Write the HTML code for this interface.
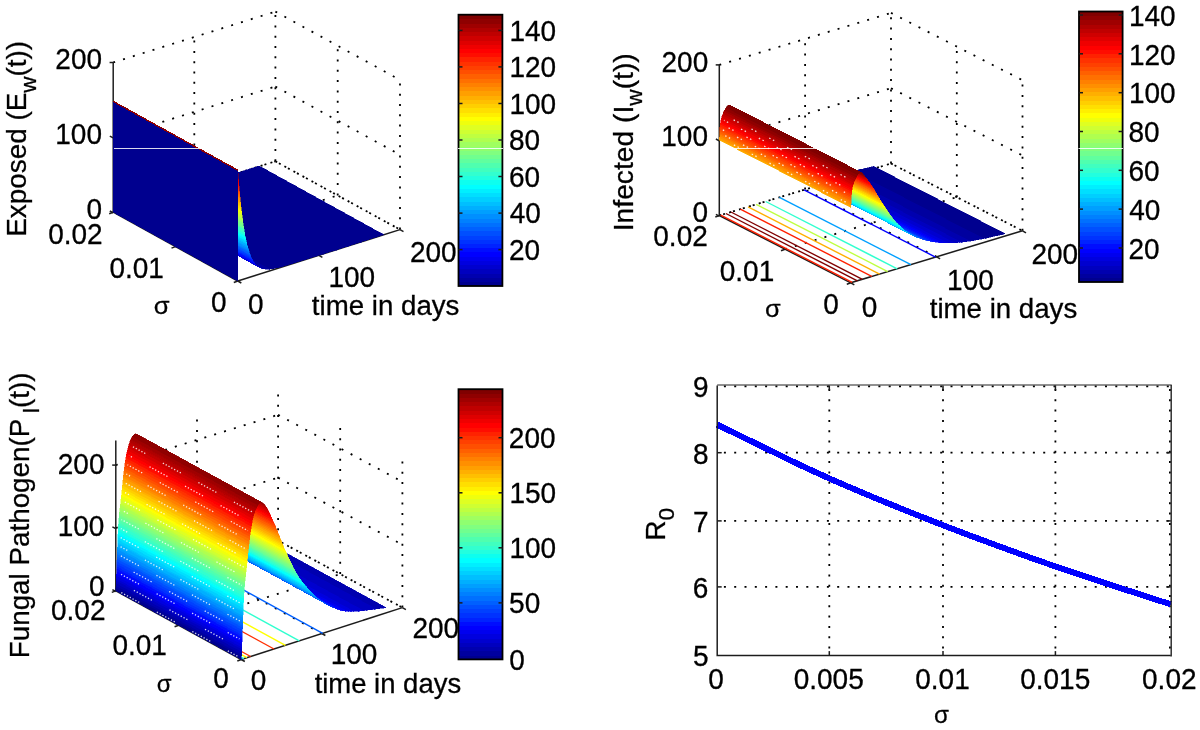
<!DOCTYPE html>
<html lang="en">
<head>
<meta charset="utf-8">
<title>Sensitivity of model compartments and R0 to sigma</title>
<style>
html,body{margin:0;padding:0;background:#fff;}
body{width:1200px;height:730px;overflow:hidden;}
svg{display:block;font-family:"Liberation Sans",sans-serif;font-size:28.00px;fill:#000;}
.g{stroke:#000;stroke-width:1.8;stroke-dasharray:2 8.3;fill:none;}
.a{stroke:#1c1c1c;stroke-width:1.5;fill:none;}
.b{stroke:#000;stroke-width:1.8;fill:none;}
</style>
</head>
<body>
<svg width="1200" height="730" viewBox="0 0 1200 730">
<defs><filter id="soft" x="0" y="0" width="1200" height="730" filterUnits="userSpaceOnUse"><feGaussianBlur stdDeviation="0.45"/></filter></defs>
<rect x="0" y="0" width="1200" height="730" fill="#fff" stroke="none"/>
<g filter="url(#soft)">
<g id="grid">
<line x1="113.2" y1="212.2" x2="275.4" y2="161.3" class="g"/>
<line x1="275.4" y1="161.3" x2="400.0" y2="229.6" class="g"/>
<line x1="113.2" y1="137.3" x2="275.4" y2="86.5" class="g"/>
<line x1="275.4" y1="86.5" x2="400.0" y2="154.8" class="g"/>
<line x1="113.2" y1="62.5" x2="275.4" y2="11.6" class="g"/>
<line x1="275.4" y1="11.6" x2="400.0" y2="79.9" class="g"/>
<line x1="194.3" y1="186.8" x2="194.3" y2="37.1" class="g"/>
<line x1="275.4" y1="161.3" x2="275.4" y2="11.6" class="g"/>
<line x1="400.0" y1="229.6" x2="400.0" y2="79.9" class="g"/>
<line x1="337.7" y1="195.4" x2="337.7" y2="45.8" class="g"/>
<line x1="275.4" y1="161.3" x2="400.0" y2="229.6" class="g" stroke-dashoffset="6.3"/>
<line x1="113.2" y1="212.2" x2="275.4" y2="161.3" class="g" stroke-dashoffset="6.3"/>
<line x1="318.9" y1="255.3" x2="194.3" y2="186.8" class="g"/>
<line x1="175.5" y1="246.6" x2="337.7" y2="195.4" class="g"/>
<line x1="719.3" y1="215.5" x2="891.0" y2="163.5" class="g"/>
<line x1="891.0" y1="163.5" x2="1022.5" y2="230.8" class="g"/>
<line x1="719.3" y1="140.2" x2="891.0" y2="88.2" class="g"/>
<line x1="891.0" y1="88.2" x2="1022.5" y2="155.5" class="g"/>
<line x1="719.3" y1="64.9" x2="891.0" y2="12.9" class="g"/>
<line x1="891.0" y1="12.9" x2="1022.5" y2="80.2" class="g"/>
<line x1="805.1" y1="189.5" x2="805.1" y2="38.9" class="g"/>
<line x1="891.0" y1="163.5" x2="891.0" y2="12.9" class="g"/>
<line x1="1022.5" y1="230.8" x2="1022.5" y2="80.2" class="g"/>
<line x1="956.8" y1="197.2" x2="956.8" y2="46.6" class="g"/>
<line x1="891.0" y1="163.5" x2="1022.5" y2="230.8" class="g" stroke-dashoffset="6.3"/>
<line x1="719.3" y1="215.5" x2="891.0" y2="163.5" class="g" stroke-dashoffset="6.3"/>
<line x1="936.6" y1="256.8" x2="805.1" y2="189.5" class="g"/>
<line x1="785.0" y1="249.2" x2="956.8" y2="197.2" class="g"/>
<line x1="115.8" y1="590.9" x2="278.1" y2="540.6" class="g"/>
<line x1="278.1" y1="540.6" x2="402.4" y2="607.6" class="g"/>
<line x1="115.8" y1="528.0" x2="278.1" y2="477.7" class="g"/>
<line x1="278.1" y1="477.7" x2="402.4" y2="544.7" class="g"/>
<line x1="115.8" y1="465.1" x2="278.1" y2="414.8" class="g"/>
<line x1="278.1" y1="414.8" x2="402.4" y2="481.8" class="g"/>
<line x1="197.0" y1="565.8" x2="197.0" y2="415.5" class="g"/>
<line x1="278.1" y1="540.6" x2="278.1" y2="390.3" class="g"/>
<line x1="402.4" y1="607.6" x2="402.4" y2="457.3" class="g"/>
<line x1="340.2" y1="574.1" x2="340.2" y2="423.8" class="g"/>
<line x1="278.1" y1="540.6" x2="402.4" y2="607.6" class="g" stroke-dashoffset="6.3"/>
<line x1="115.8" y1="590.9" x2="278.1" y2="540.6" class="g" stroke-dashoffset="6.3"/>
<line x1="321.9" y1="633.5" x2="197.0" y2="565.8" class="g"/>
<line x1="178.6" y1="625.2" x2="340.2" y2="574.1" class="g"/>
<line x1="829.3" y1="385.4" x2="829.3" y2="655.6" class="g" stroke-dashoffset="6.7"/>
<line x1="943.0" y1="385.4" x2="943.0" y2="655.6" class="g" stroke-dashoffset="6.7"/>
<line x1="1055.4" y1="385.4" x2="1055.4" y2="655.6" class="g" stroke-dashoffset="6.7"/>
<line x1="717.2" y1="586.9" x2="1170.8" y2="586.9" class="g" stroke-dashoffset="3.6"/>
<line x1="717.2" y1="520.9" x2="1170.8" y2="520.9" class="g" stroke-dashoffset="3.6"/>
<line x1="717.2" y1="452.7" x2="1170.8" y2="452.7" class="g" stroke-dashoffset="3.6"/>
<line x1="717.2" y1="386.3" x2="1170.8" y2="386.3" class="g" stroke-dashoffset="3.6"/>
<line x1="1169.9" y1="385.4" x2="1169.9" y2="655.6" class="g" stroke-dashoffset="6.7"/>
</g>
<g id="axes3d">
<line x1="113.2" y1="212.2" x2="113.2" y2="62.5" class="a"/>
<line x1="237.8" y1="281.0" x2="400.0" y2="229.6" class="a"/>
<line x1="237.8" y1="281.0" x2="113.2" y2="212.2" class="a"/>
<line x1="109.8" y1="211.0" x2="113.2" y2="212.8" class="a"/>
<line x1="109.8" y1="136.2" x2="113.2" y2="137.9" class="a"/>
<line x1="109.6" y1="62.5" x2="113.9" y2="62.5" class="a"/>
<line x1="237.8" y1="281.0" x2="241.3" y2="283.0" class="a"/>
<line x1="318.9" y1="255.3" x2="322.4" y2="257.3" class="a"/>
<line x1="400.0" y1="229.6" x2="403.5" y2="231.6" class="a"/>
<line x1="237.8" y1="281.0" x2="233.8" y2="282.5" class="a"/>
<line x1="175.5" y1="246.6" x2="171.5" y2="248.1" class="a"/>
<line x1="113.2" y1="212.2" x2="109.2" y2="213.7" class="a"/>
<line x1="719.3" y1="215.5" x2="719.3" y2="64.9" class="a"/>
<line x1="850.8" y1="282.8" x2="1022.5" y2="230.8" class="a"/>
<line x1="850.8" y1="282.8" x2="719.3" y2="215.5" class="a"/>
<line x1="715.9" y1="214.3" x2="719.3" y2="216.1" class="a"/>
<line x1="715.9" y1="139.0" x2="719.3" y2="140.8" class="a"/>
<line x1="715.7" y1="64.9" x2="720.0" y2="64.9" class="a"/>
<line x1="850.8" y1="282.8" x2="854.3" y2="284.8" class="a"/>
<line x1="936.6" y1="256.8" x2="940.1" y2="258.8" class="a"/>
<line x1="1022.5" y1="230.8" x2="1026.0" y2="232.8" class="a"/>
<line x1="850.8" y1="282.8" x2="846.8" y2="284.3" class="a"/>
<line x1="785.0" y1="249.2" x2="781.0" y2="250.7" class="a"/>
<line x1="719.3" y1="215.5" x2="715.3" y2="217.0" class="a"/>
<line x1="115.8" y1="590.9" x2="115.8" y2="440.6" class="a"/>
<line x1="241.3" y1="659.5" x2="402.4" y2="607.6" class="a"/>
<line x1="241.3" y1="659.5" x2="115.8" y2="590.9" class="a"/>
<line x1="112.4" y1="589.7" x2="115.8" y2="591.5" class="a"/>
<line x1="112.4" y1="526.8" x2="115.8" y2="528.6" class="a"/>
<line x1="112.2" y1="465.1" x2="116.5" y2="465.1" class="a"/>
<line x1="241.3" y1="659.5" x2="244.8" y2="661.5" class="a"/>
<line x1="321.9" y1="633.5" x2="325.4" y2="635.5" class="a"/>
<line x1="402.4" y1="607.6" x2="405.9" y2="609.6" class="a"/>
<line x1="241.3" y1="659.5" x2="237.3" y2="661.0" class="a"/>
<line x1="178.6" y1="625.2" x2="174.6" y2="626.7" class="a"/>
<line x1="115.8" y1="590.9" x2="111.8" y2="592.4" class="a"/>
</g>
<g id="contours">
<line x1="852.2" y1="282.4" x2="720.7" y2="215.1" stroke="#ff2000" stroke-width="1.4"/>
<line x1="857.4" y1="280.8" x2="725.9" y2="213.5" stroke="#800000" stroke-width="1.4"/>
<line x1="862.4" y1="279.3" x2="730.9" y2="212.0" stroke="#800000" stroke-width="1.4"/>
<line x1="871.8" y1="276.4" x2="740.3" y2="209.1" stroke="#ff2000" stroke-width="1.4"/>
<line x1="879.6" y1="274.1" x2="748.1" y2="206.8" stroke="#ffaf00" stroke-width="1.4"/>
<line x1="887.7" y1="271.6" x2="756.2" y2="204.3" stroke="#bfff40" stroke-width="1.4"/>
<line x1="897.2" y1="268.8" x2="765.7" y2="201.5" stroke="#30ffcf" stroke-width="1.4"/>
<line x1="910.9" y1="264.6" x2="779.4" y2="197.3" stroke="#009fff" stroke-width="1.4"/>
<line x1="935.5" y1="257.1" x2="804.0" y2="189.8" stroke="#0000ff" stroke-width="1.4"/>
<line x1="242.5" y1="659.1" x2="117.0" y2="590.5" stroke="#0060ff" stroke-width="1.4"/>
<line x1="243.8" y1="658.7" x2="118.3" y2="590.1" stroke="#30ffcf" stroke-width="1.4"/>
<line x1="246.9" y1="657.7" x2="121.4" y2="589.1" stroke="#ffff00" stroke-width="1.4"/>
<line x1="250.6" y1="656.5" x2="125.1" y2="587.9" stroke="#ff3000" stroke-width="1.4"/>
<line x1="274.0" y1="649.0" x2="148.5" y2="580.4" stroke="#ff3000" stroke-width="1.4"/>
<line x1="285.4" y1="645.3" x2="159.9" y2="576.7" stroke="#ffff00" stroke-width="1.4"/>
<line x1="299.3" y1="640.8" x2="173.8" y2="572.2" stroke="#30ffcf" stroke-width="1.4"/>
<line x1="322.7" y1="633.3" x2="197.2" y2="564.7" stroke="#0060ff" stroke-width="1.4"/>
</g>
<g id="surfaces" shape-rendering="crispEdges">
<polygon points="383.2,234.9 383.8,234.7 259.2,165.9 258.6,166.1" fill="#00008f" stroke="#00008f" stroke-width="0.5" />
<polygon points="379.9,236.0 383.2,234.9 258.6,166.1 255.3,167.2" fill="#00008f" stroke="#00008f" stroke-width="0.5" />
<polygon points="376.7,237.0 379.9,236.0 255.3,167.2 252.1,168.2" fill="#00008f" stroke="#00008f" stroke-width="0.5" />
<polygon points="373.4,238.0 376.7,237.0 252.1,168.2 248.8,169.2" fill="#00008f" stroke="#00008f" stroke-width="0.5" />
<polygon points="370.2,239.0 373.4,238.0 248.8,169.2 245.6,170.2" fill="#00008f" stroke="#00008f" stroke-width="0.5" />
<polygon points="367.0,240.1 370.2,239.0 245.6,170.2 242.4,171.3" fill="#00008f" stroke="#00008f" stroke-width="0.5" />
<polygon points="363.7,241.1 367.0,240.1 242.4,171.3 239.1,172.3" fill="#00008f" stroke="#00008f" stroke-width="0.5" />
<polygon points="360.5,242.1 363.7,241.1 239.1,172.3 235.9,173.3" fill="#00008f" stroke="#00008f" stroke-width="0.5" />
<polygon points="357.2,243.2 360.5,242.1 235.9,173.3 232.6,174.4" fill="#00008f" stroke="#00008f" stroke-width="0.5" />
<polygon points="354.0,244.2 357.2,243.2 232.6,174.4 229.4,175.4" fill="#00008f" stroke="#00008f" stroke-width="0.5" />
<polygon points="350.7,245.2 354.0,244.2 229.4,175.4 226.1,176.4" fill="#00008f" stroke="#00008f" stroke-width="0.5" />
<polygon points="347.5,246.2 350.7,245.2 226.1,176.4 222.9,177.4" fill="#00008f" stroke="#00008f" stroke-width="0.5" />
<polygon points="344.2,247.3 347.5,246.2 222.9,177.4 219.6,178.5" fill="#00008f" stroke="#00008f" stroke-width="0.5" />
<polygon points="341.0,248.3 344.2,247.3 219.6,178.5 216.4,179.5" fill="#00008f" stroke="#00008f" stroke-width="0.5" />
<polygon points="337.8,249.3 341.0,248.3 216.4,179.5 213.2,180.5" fill="#00008f" stroke="#00008f" stroke-width="0.5" />
<polygon points="334.5,250.4 337.8,249.3 213.2,180.5 209.9,181.6" fill="#00008f" stroke="#00008f" stroke-width="0.5" />
<polygon points="331.3,251.4 334.5,250.4 209.9,181.6 206.7,182.6" fill="#00008f" stroke="#00008f" stroke-width="0.5" />
<polygon points="328.0,252.4 331.3,251.4 206.7,182.6 203.4,183.6" fill="#00008f" stroke="#00008f" stroke-width="0.5" />
<polygon points="324.8,253.4 328.0,252.4 203.4,183.6 200.2,184.6" fill="#00008f" stroke="#00008f" stroke-width="0.5" />
<polygon points="321.5,254.5 324.8,253.4 200.2,184.6 196.9,185.7" fill="#00008f" stroke="#00008f" stroke-width="0.5" />
<polygon points="318.3,255.5 321.5,254.5 196.9,185.7 193.7,186.7" fill="#00008f" stroke="#00008f" stroke-width="0.5" />
<polygon points="315.0,256.5 318.3,255.5 193.7,186.7 190.4,187.7" fill="#00008f" stroke="#00008f" stroke-width="0.5" />
<polygon points="311.8,257.5 315.0,256.5 190.4,187.7 187.2,188.7" fill="#00008f" stroke="#00008f" stroke-width="0.5" />
<polygon points="308.6,258.6 311.8,257.5 187.2,188.7 184.0,189.8" fill="#00008f" stroke="#00008f" stroke-width="0.5" />
<polygon points="305.3,259.6 308.6,258.6 184.0,189.8 180.7,190.8" fill="#00008f" stroke="#00008f" stroke-width="0.5" />
<polygon points="302.1,260.6 305.3,259.6 180.7,190.8 177.5,191.8" fill="#00008f" stroke="#00008f" stroke-width="0.5" />
<polygon points="298.8,261.6 302.1,260.6 177.5,191.8 174.2,192.8" fill="#00008f" stroke="#00008f" stroke-width="0.5" />
<polygon points="295.6,262.6 298.8,261.6 174.2,192.8 171.0,193.8" fill="#00008f" stroke="#00008f" stroke-width="0.5" />
<polygon points="292.3,263.6 295.6,262.6 171.0,193.8 167.7,194.8" fill="#00008f" stroke="#00008f" stroke-width="0.5" />
<polygon points="289.1,264.6 292.3,263.6 167.7,194.8 164.5,195.8" fill="#00008f" stroke="#00008f" stroke-width="0.5" />
<polygon points="285.9,265.6 289.1,264.6 164.5,195.8 161.3,196.8" fill="#00008f" stroke="#00008f" stroke-width="0.5" />
<polygon points="282.6,266.5 285.9,265.6 161.3,196.8 158.0,197.7" fill="#00008f" stroke="#00008f" stroke-width="0.5" />
<polygon points="279.4,267.3 282.6,266.5 158.0,197.7 154.8,198.5" fill="#00008f" stroke="#00008f" stroke-width="0.5" />
<polygon points="276.1,268.1 279.4,267.3 154.8,198.5 151.5,199.3" fill="#00008f" stroke="#00008f" stroke-width="0.5" />
<polygon points="272.9,268.7 276.1,268.1 151.5,199.3 148.3,199.9" fill="#00008f" stroke="#00008f" stroke-width="0.5" />
<polygon points="269.6,269.1 272.9,268.7 148.3,199.9 145.0,200.3" fill="#00008f" stroke="#00008f" stroke-width="0.5" />
<polygon points="266.4,269.2 269.6,269.1 145.0,200.3 141.8,200.4" fill="#00009f" stroke="#00009f" stroke-width="0.5" />
<polygon points="263.1,268.8 266.4,269.2 141.8,200.4 138.5,200.0" fill="#00009f" stroke="#00009f" stroke-width="0.5" />
<polygon points="261.5,268.3 263.1,268.8 138.5,200.0 136.9,199.5" fill="#0000af" stroke="#0000af" stroke-width="0.5" />
<polygon points="259.9,267.7 261.5,268.3 136.9,199.5 135.3,198.9" fill="#0000bf" stroke="#0000bf" stroke-width="0.5" />
<polygon points="258.3,266.7 259.9,267.7 135.3,198.9 133.7,197.9" fill="#0000cf" stroke="#0000cf" stroke-width="0.5" />
<polygon points="257.5,266.1 258.3,266.7 133.7,197.9 132.9,197.3" fill="#0000cf" stroke="#0000cf" stroke-width="0.5" />
<polygon points="256.7,265.4 257.5,266.1 132.9,197.3 132.1,196.6" fill="#0000df" stroke="#0000df" stroke-width="0.5" />
<polygon points="255.8,264.6 256.7,265.4 132.1,196.6 131.2,195.8" fill="#0000df" stroke="#0000df" stroke-width="0.5" />
<polygon points="255.0,263.6 255.8,264.6 131.2,195.8 130.4,194.8" fill="#0000ef" stroke="#0000ef" stroke-width="0.5" />
<polygon points="254.2,262.6 255.0,263.6 130.4,194.8 129.6,193.8" fill="#0000ff" stroke="#0000ff" stroke-width="0.5" />
<polygon points="253.4,261.4 254.2,262.6 129.6,193.8 128.8,192.6" fill="#0010ff" stroke="#0010ff" stroke-width="0.5" />
<polygon points="253.0,260.7 253.4,261.4 128.8,192.6 128.4,191.9" fill="#0010ff" stroke="#0010ff" stroke-width="0.5" />
<polygon points="252.6,260.0 253.0,260.7 128.4,191.9 128.0,191.2" fill="#0020ff" stroke="#0020ff" stroke-width="0.5" />
<polygon points="252.2,259.3 252.6,260.0 128.0,191.2 127.6,190.5" fill="#0020ff" stroke="#0020ff" stroke-width="0.5" />
<polygon points="251.8,258.5 252.2,259.3 127.6,190.5 127.2,189.7" fill="#0030ff" stroke="#0030ff" stroke-width="0.5" />
<polygon points="251.4,257.6 251.8,258.5 127.2,189.7 126.8,188.8" fill="#0030ff" stroke="#0030ff" stroke-width="0.5" />
<polygon points="251.0,256.7 251.4,257.6 126.8,188.8 126.4,187.9" fill="#0040ff" stroke="#0040ff" stroke-width="0.5" />
<polygon points="250.6,255.8 251.0,256.7 126.4,187.9 126.0,187.0" fill="#0040ff" stroke="#0040ff" stroke-width="0.5" />
<polygon points="250.2,254.7 250.6,255.8 126.0,187.0 125.6,185.9" fill="#0050ff" stroke="#0050ff" stroke-width="0.5" />
<polygon points="249.8,253.7 250.2,254.7 125.6,185.9 125.2,184.9" fill="#0060ff" stroke="#0060ff" stroke-width="0.5" />
<polygon points="249.4,252.5 249.8,253.7 125.2,184.9 124.8,183.7" fill="#0060ff" stroke="#0060ff" stroke-width="0.5" />
<polygon points="249.0,251.3 249.4,252.5 124.8,183.7 124.4,182.5" fill="#0070ff" stroke="#0070ff" stroke-width="0.5" />
<polygon points="248.5,250.0 249.0,251.3 124.4,182.5 123.9,181.2" fill="#0080ff" stroke="#0080ff" stroke-width="0.5" />
<polygon points="248.1,248.7 248.5,250.0 123.9,181.2 123.5,179.9" fill="#008fff" stroke="#008fff" stroke-width="0.5" />
<polygon points="247.9,248.0 248.1,248.7 123.5,179.9 123.3,179.2" fill="#008fff" stroke="#008fff" stroke-width="0.5" />
<polygon points="247.7,247.2 247.9,248.0 123.3,179.2 123.1,178.4" fill="#009fff" stroke="#009fff" stroke-width="0.5" />
<polygon points="247.5,246.5 247.7,247.2 123.1,178.4 122.9,177.7" fill="#009fff" stroke="#009fff" stroke-width="0.5" />
<polygon points="247.3,245.7 247.5,246.5 122.9,177.7 122.7,176.9" fill="#00afff" stroke="#00afff" stroke-width="0.5" />
<polygon points="247.1,244.9 247.3,245.7 122.7,176.9 122.5,176.1" fill="#00afff" stroke="#00afff" stroke-width="0.5" />
<polygon points="246.9,244.1 247.1,244.9 122.5,176.1 122.3,175.3" fill="#00bfff" stroke="#00bfff" stroke-width="0.5" />
<polygon points="246.7,243.3 246.9,244.1 122.3,175.3 122.1,174.5" fill="#00bfff" stroke="#00bfff" stroke-width="0.5" />
<polygon points="246.5,242.4 246.7,243.3 122.1,174.5 121.9,173.6" fill="#00cfff" stroke="#00cfff" stroke-width="0.5" />
<polygon points="246.3,241.5 246.5,242.4 121.9,173.6 121.7,172.7" fill="#00cfff" stroke="#00cfff" stroke-width="0.5" />
<polygon points="246.1,240.6 246.3,241.5 121.7,172.7 121.5,171.8" fill="#00dfff" stroke="#00dfff" stroke-width="0.5" />
<polygon points="245.9,239.7 246.1,240.6 121.5,171.8 121.3,170.9" fill="#00efff" stroke="#00efff" stroke-width="0.5" />
<polygon points="245.7,238.7 245.9,239.7 121.3,170.9 121.1,169.9" fill="#00efff" stroke="#00efff" stroke-width="0.5" />
<polygon points="245.5,237.7 245.7,238.7 121.1,169.9 120.9,168.9" fill="#00ffff" stroke="#00ffff" stroke-width="0.5" />
<polygon points="245.3,236.7 245.5,237.7 120.9,168.9 120.7,167.9" fill="#00ffff" stroke="#00ffff" stroke-width="0.5" />
<polygon points="245.1,235.6 245.3,236.7 120.7,167.9 120.5,166.8" fill="#10ffef" stroke="#10ffef" stroke-width="0.5" />
<polygon points="244.9,234.5 245.1,235.6 120.5,166.8 120.3,165.7" fill="#20ffdf" stroke="#20ffdf" stroke-width="0.5" />
<polygon points="244.7,233.4 244.9,234.5 120.3,165.7 120.1,164.6" fill="#20ffdf" stroke="#20ffdf" stroke-width="0.5" />
<polygon points="244.5,232.3 244.7,233.4 120.1,164.6 119.9,163.5" fill="#30ffcf" stroke="#30ffcf" stroke-width="0.5" />
<polygon points="244.3,231.1 244.5,232.3 119.9,163.5 119.7,162.3" fill="#40ffbf" stroke="#40ffbf" stroke-width="0.5" />
<polygon points="244.1,229.9 244.3,231.1 119.7,162.3 119.5,161.1" fill="#40ffbf" stroke="#40ffbf" stroke-width="0.5" />
<polygon points="243.9,228.7 244.1,229.9 119.5,161.1 119.3,159.9" fill="#50ffaf" stroke="#50ffaf" stroke-width="0.5" />
<polygon points="243.7,227.4 243.9,228.7 119.3,159.9 119.1,158.6" fill="#60ff9f" stroke="#60ff9f" stroke-width="0.5" />
<polygon points="243.5,226.1 243.7,227.4 119.1,158.6 118.9,157.3" fill="#70ff8f" stroke="#70ff8f" stroke-width="0.5" />
<polygon points="243.3,224.7 243.5,226.1 118.9,157.3 118.7,155.9" fill="#70ff8f" stroke="#70ff8f" stroke-width="0.5" />
<polygon points="243.1,223.3 243.3,224.7 118.7,155.9 118.5,154.5" fill="#80ff80" stroke="#80ff80" stroke-width="0.5" />
<polygon points="242.9,221.9 243.1,223.3 118.5,154.5 118.3,153.1" fill="#8fff70" stroke="#8fff70" stroke-width="0.5" />
<polygon points="242.8,221.2 242.9,221.9 118.3,153.1 118.2,152.4" fill="#9fff60" stroke="#9fff60" stroke-width="0.5" />
<polygon points="242.7,220.5 242.8,221.2 118.2,152.4 118.1,151.7" fill="#9fff60" stroke="#9fff60" stroke-width="0.5" />
<polygon points="242.6,219.7 242.7,220.5 118.1,151.7 118.0,150.9" fill="#afff50" stroke="#afff50" stroke-width="0.5" />
<polygon points="242.5,219.0 242.6,219.7 118.0,150.9 117.9,150.2" fill="#afff50" stroke="#afff50" stroke-width="0.5" />
<polygon points="242.4,218.2 242.5,219.0 117.9,150.2 117.8,149.4" fill="#bfff40" stroke="#bfff40" stroke-width="0.5" />
<polygon points="242.3,217.4 242.4,218.2 117.8,149.4 117.7,148.6" fill="#bfff40" stroke="#bfff40" stroke-width="0.5" />
<polygon points="242.2,216.6 242.3,217.4 117.7,148.6 117.6,147.8" fill="#cfff30" stroke="#cfff30" stroke-width="0.5" />
<polygon points="242.1,215.8 242.2,216.6 117.6,147.8 117.5,147.0" fill="#cfff30" stroke="#cfff30" stroke-width="0.5" />
<polygon points="242.0,215.0 242.1,215.8 117.5,147.0 117.4,146.2" fill="#cfff30" stroke="#cfff30" stroke-width="0.5" />
<polygon points="241.9,214.2 242.0,215.0 117.4,146.2 117.3,145.4" fill="#dfff20" stroke="#dfff20" stroke-width="0.5" />
<polygon points="241.8,213.4 241.9,214.2 117.3,145.4 117.2,144.6" fill="#dfff20" stroke="#dfff20" stroke-width="0.5" />
<polygon points="241.7,212.5 241.8,213.4 117.2,144.6 117.1,143.7" fill="#efff10" stroke="#efff10" stroke-width="0.5" />
<polygon points="241.6,211.6 241.7,212.5 117.1,143.7 117.0,142.8" fill="#efff10" stroke="#efff10" stroke-width="0.5" />
<polygon points="241.4,210.8 241.6,211.6 117.0,142.8 116.8,142.0" fill="#ffff00" stroke="#ffff00" stroke-width="0.5" />
<polygon points="241.3,209.9 241.4,210.8 116.8,142.0 116.7,141.1" fill="#ffef00" stroke="#ffef00" stroke-width="0.5" />
<polygon points="241.2,209.0 241.3,209.9 116.7,141.1 116.6,140.2" fill="#ffef00" stroke="#ffef00" stroke-width="0.5" />
<polygon points="241.1,208.1 241.2,209.0 116.6,140.2 116.5,139.3" fill="#ffdf00" stroke="#ffdf00" stroke-width="0.5" />
<polygon points="241.0,207.2 241.1,208.1 116.5,139.3 116.4,138.4" fill="#ffdf00" stroke="#ffdf00" stroke-width="0.5" />
<polygon points="240.9,206.3 241.0,207.2 116.4,138.4 116.3,137.5" fill="#ffcf00" stroke="#ffcf00" stroke-width="0.5" />
<polygon points="240.8,205.3 240.9,206.3 116.3,137.5 116.2,136.5" fill="#ffcf00" stroke="#ffcf00" stroke-width="0.5" />
<polygon points="240.7,204.4 240.8,205.3 116.2,136.5 116.1,135.6" fill="#ffbf00" stroke="#ffbf00" stroke-width="0.5" />
<polygon points="240.6,203.4 240.7,204.4 116.1,135.6 116.0,134.6" fill="#ffbf00" stroke="#ffbf00" stroke-width="0.5" />
<polygon points="240.5,202.4 240.6,203.4 116.0,134.6 115.9,133.6" fill="#ffaf00" stroke="#ffaf00" stroke-width="0.5" />
<polygon points="240.4,201.4 240.5,202.4 115.9,133.6 115.8,132.6" fill="#ff9f00" stroke="#ff9f00" stroke-width="0.5" />
<polygon points="240.3,200.4 240.4,201.4 115.8,132.6 115.7,131.6" fill="#ff9f00" stroke="#ff9f00" stroke-width="0.5" />
<polygon points="240.2,199.4 240.3,200.4 115.7,131.6 115.6,130.6" fill="#ff8f00" stroke="#ff8f00" stroke-width="0.5" />
<polygon points="240.1,198.3 240.2,199.4 115.6,130.6 115.5,129.5" fill="#ff8f00" stroke="#ff8f00" stroke-width="0.5" />
<polygon points="240.0,197.3 240.1,198.3 115.5,129.5 115.4,128.5" fill="#ff8000" stroke="#ff8000" stroke-width="0.5" />
<polygon points="239.9,196.2 240.0,197.3 115.4,128.5 115.3,127.4" fill="#ff7000" stroke="#ff7000" stroke-width="0.5" />
<polygon points="239.8,195.2 239.9,196.2 115.3,127.4 115.2,126.4" fill="#ff7000" stroke="#ff7000" stroke-width="0.5" />
<polygon points="239.7,194.1 239.8,195.2 115.2,126.4 115.1,125.3" fill="#ff6000" stroke="#ff6000" stroke-width="0.5" />
<polygon points="239.6,193.0 239.7,194.1 115.1,125.3 115.0,124.2" fill="#ff5000" stroke="#ff5000" stroke-width="0.5" />
<polygon points="239.5,191.8 239.6,193.0 115.0,124.2 114.9,123.0" fill="#ff5000" stroke="#ff5000" stroke-width="0.5" />
<polygon points="239.4,190.7 239.5,191.8 114.9,123.0 114.8,121.9" fill="#ff4000" stroke="#ff4000" stroke-width="0.5" />
<polygon points="239.3,189.5 239.4,190.7 114.8,121.9 114.7,120.7" fill="#ff3000" stroke="#ff3000" stroke-width="0.5" />
<polygon points="239.2,188.4 239.3,189.5 114.7,120.7 114.6,119.6" fill="#ff3000" stroke="#ff3000" stroke-width="0.5" />
<polygon points="239.1,187.2 239.2,188.4 114.6,119.6 114.5,118.4" fill="#ff2000" stroke="#ff2000" stroke-width="0.5" />
<polygon points="239.0,186.0 239.1,187.2 114.5,118.4 114.4,117.2" fill="#ff1000" stroke="#ff1000" stroke-width="0.5" />
<polygon points="238.9,184.8 239.0,186.0 114.4,117.2 114.3,116.0" fill="#ff1000" stroke="#ff1000" stroke-width="0.5" />
<polygon points="238.8,183.5 238.9,184.8 114.3,116.0 114.2,114.7" fill="#ff0000" stroke="#ff0000" stroke-width="0.5" />
<polygon points="238.7,182.3 238.8,183.5 114.2,114.7 114.1,113.5" fill="#ef0000" stroke="#ef0000" stroke-width="0.5" />
<polygon points="238.6,181.0 238.7,182.3 114.1,113.5 114.0,112.2" fill="#df0000" stroke="#df0000" stroke-width="0.5" />
<polygon points="238.5,179.7 238.6,181.0 114.0,112.2 113.9,110.9" fill="#df0000" stroke="#df0000" stroke-width="0.5" />
<polygon points="238.4,178.4 238.5,179.7 113.9,110.9 113.8,109.6" fill="#cf0000" stroke="#cf0000" stroke-width="0.5" />
<polygon points="238.3,177.1 238.4,178.4 113.8,109.6 113.7,108.3" fill="#bf0000" stroke="#bf0000" stroke-width="0.5" />
<polygon points="238.2,175.8 238.3,177.1 113.7,108.3 113.6,107.0" fill="#af0000" stroke="#af0000" stroke-width="0.5" />
<polygon points="238.1,174.4 238.2,175.8 113.6,107.0 113.5,105.6" fill="#af0000" stroke="#af0000" stroke-width="0.5" />
<polygon points="238.0,173.0 238.1,174.4 113.5,105.6 113.4,104.2" fill="#9f0000" stroke="#9f0000" stroke-width="0.5" />
<polygon points="237.9,171.6 238.0,173.0 113.4,104.2 113.3,102.8" fill="#8f0000" stroke="#8f0000" stroke-width="0.5" />
<polygon points="237.8,170.2 237.9,171.6 113.3,102.8 113.2,101.4" fill="#800000" stroke="#800000" stroke-width="0.5" />
<polygon points="237.8,281.0 237.8,170.2 113.2,101.4 113.2,212.2" fill="#00008f" stroke="#00008f" stroke-width="0.5" />
<line x1="237.8" y1="170.2" x2="113.2" y2="101.4" stroke="#8f0000" stroke-width="1.4"/>
<polygon points="1004.4,233.9 1005.3,233.7 873.8,166.4 872.9,166.6" fill="#00008f" stroke="#00008f" stroke-width="0.5" />
<polygon points="1002.7,234.3 1004.4,233.9 872.9,166.6 871.2,167.0" fill="#00008f" stroke="#00008f" stroke-width="0.5" />
<polygon points="1001.0,234.7 1002.7,234.3 871.2,167.0 869.5,167.4" fill="#00008f" stroke="#00008f" stroke-width="0.5" />
<polygon points="999.2,235.1 1001.0,234.7 869.5,167.4 867.7,167.8" fill="#00008f" stroke="#00008f" stroke-width="0.5" />
<polygon points="997.5,235.5 999.2,235.1 867.7,167.8 866.0,168.2" fill="#00008f" stroke="#00008f" stroke-width="0.5" />
<polygon points="995.8,235.9 997.5,235.5 866.0,168.2 864.3,168.6" fill="#00008f" stroke="#00008f" stroke-width="0.5" />
<polygon points="994.1,236.3 995.8,235.9 864.3,168.6 862.6,169.0" fill="#00008f" stroke="#00008f" stroke-width="0.5" />
<polygon points="992.4,236.7 994.1,236.3 862.6,169.0 860.9,169.4" fill="#00008f" stroke="#00008f" stroke-width="0.5" />
<polygon points="990.7,237.1 992.4,236.7 860.9,169.4 859.2,169.8" fill="#00008f" stroke="#00008f" stroke-width="0.5" />
<polygon points="988.9,237.5 990.7,237.1 859.2,169.8 857.4,170.2" fill="#00008f" stroke="#00008f" stroke-width="0.5" />
<polygon points="987.2,237.8 988.9,237.5 857.4,170.2 855.7,170.5" fill="#00008f" stroke="#00008f" stroke-width="0.5" />
<polygon points="985.5,238.2 987.2,237.8 855.7,170.5 854.0,170.9" fill="#00008f" stroke="#00008f" stroke-width="0.5" />
<polygon points="983.8,238.6 985.5,238.2 854.0,170.9 852.3,171.3" fill="#00008f" stroke="#00008f" stroke-width="0.5" />
<polygon points="982.1,238.9 983.8,238.6 852.3,171.3 850.6,171.6" fill="#00009f" stroke="#00009f" stroke-width="0.5" />
<polygon points="980.4,239.3 982.1,238.9 850.6,171.6 848.9,172.0" fill="#00009f" stroke="#00009f" stroke-width="0.5" />
<polygon points="978.6,239.6 980.4,239.3 848.9,172.0 847.1,172.3" fill="#00009f" stroke="#00009f" stroke-width="0.5" />
<polygon points="976.9,239.9 978.6,239.6 847.1,172.3 845.4,172.6" fill="#00009f" stroke="#00009f" stroke-width="0.5" />
<polygon points="975.2,240.2 976.9,239.9 845.4,172.6 843.7,172.9" fill="#00009f" stroke="#00009f" stroke-width="0.5" />
<polygon points="973.5,240.5 975.2,240.2 843.7,172.9 842.0,173.2" fill="#00009f" stroke="#00009f" stroke-width="0.5" />
<polygon points="971.8,240.8 973.5,240.5 842.0,173.2 840.3,173.5" fill="#00009f" stroke="#00009f" stroke-width="0.5" />
<polygon points="970.1,241.1 971.8,240.8 840.3,173.5 838.6,173.8" fill="#00009f" stroke="#00009f" stroke-width="0.5" />
<polygon points="968.3,241.3 970.1,241.1 838.6,173.8 836.8,174.0" fill="#0000af" stroke="#0000af" stroke-width="0.5" />
<polygon points="966.6,241.5 968.3,241.3 836.8,174.0 835.1,174.2" fill="#0000af" stroke="#0000af" stroke-width="0.5" />
<polygon points="964.9,241.8 966.6,241.5 835.1,174.2 833.4,174.5" fill="#0000af" stroke="#0000af" stroke-width="0.5" />
<polygon points="963.2,242.0 964.9,241.8 833.4,174.5 831.7,174.7" fill="#0000af" stroke="#0000af" stroke-width="0.5" />
<polygon points="961.5,242.2 963.2,242.0 831.7,174.7 830.0,174.9" fill="#0000af" stroke="#0000af" stroke-width="0.5" />
<polygon points="959.7,242.4 961.5,242.2 830.0,174.9 828.2,175.1" fill="#0000bf" stroke="#0000bf" stroke-width="0.5" />
<polygon points="958.0,242.5 959.7,242.4 828.2,175.1 826.5,175.2" fill="#0000bf" stroke="#0000bf" stroke-width="0.5" />
<polygon points="956.3,242.6 958.0,242.5 826.5,175.2 824.8,175.3" fill="#0000bf" stroke="#0000bf" stroke-width="0.5" />
<polygon points="954.6,242.7 956.3,242.6 824.8,175.3 823.1,175.4" fill="#0000bf" stroke="#0000bf" stroke-width="0.5" />
<polygon points="952.9,242.8 954.6,242.7 823.1,175.4 821.4,175.5" fill="#0000cf" stroke="#0000cf" stroke-width="0.5" />
<polygon points="951.2,242.9 952.9,242.8 821.4,175.5 819.7,175.6" fill="#0000cf" stroke="#0000cf" stroke-width="0.5" />
<polygon points="949.4,242.9 951.2,242.9 819.7,175.6 817.9,175.6" fill="#0000cf" stroke="#0000cf" stroke-width="0.5" />
<polygon points="947.7,242.9 949.4,242.9 817.9,175.6 816.2,175.6" fill="#0000cf" stroke="#0000cf" stroke-width="0.5" />
<polygon points="946.0,242.9 947.7,242.9 816.2,175.6 814.5,175.6" fill="#0000df" stroke="#0000df" stroke-width="0.5" />
<polygon points="944.3,242.9 946.0,242.9 814.5,175.6 812.8,175.6" fill="#0000df" stroke="#0000df" stroke-width="0.5" />
<polygon points="942.6,242.8 944.3,242.9 812.8,175.6 811.1,175.5" fill="#0000df" stroke="#0000df" stroke-width="0.5" />
<polygon points="940.9,242.7 942.6,242.8 811.1,175.5 809.4,175.4" fill="#0000ef" stroke="#0000ef" stroke-width="0.5" />
<polygon points="939.1,242.5 940.9,242.7 809.4,175.4 807.6,175.2" fill="#0000ef" stroke="#0000ef" stroke-width="0.5" />
<polygon points="937.4,242.3 939.1,242.5 807.6,175.2 805.9,175.0" fill="#0000ff" stroke="#0000ff" stroke-width="0.5" />
<polygon points="935.7,242.1 937.4,242.3 805.9,175.0 804.2,174.8" fill="#0000ff" stroke="#0000ff" stroke-width="0.5" />
<polygon points="934.9,242.0 935.7,242.1 804.2,174.8 803.4,174.7" fill="#0000ff" stroke="#0000ff" stroke-width="0.5" />
<polygon points="934.0,241.8 934.9,242.0 803.4,174.7 802.5,174.5" fill="#0010ff" stroke="#0010ff" stroke-width="0.5" />
<polygon points="933.1,241.7 934.0,241.8 802.5,174.5 801.6,174.4" fill="#0010ff" stroke="#0010ff" stroke-width="0.5" />
<polygon points="932.3,241.5 933.1,241.7 801.6,174.4 800.8,174.2" fill="#0010ff" stroke="#0010ff" stroke-width="0.5" />
<polygon points="931.4,241.4 932.3,241.5 800.8,174.2 799.9,174.1" fill="#0010ff" stroke="#0010ff" stroke-width="0.5" />
<polygon points="930.6,241.2 931.4,241.4 799.9,174.1 799.1,173.9" fill="#0020ff" stroke="#0020ff" stroke-width="0.5" />
<polygon points="929.7,241.0 930.6,241.2 799.1,173.9 798.2,173.7" fill="#0020ff" stroke="#0020ff" stroke-width="0.5" />
<polygon points="928.8,240.9 929.7,241.0 798.2,173.7 797.3,173.6" fill="#0020ff" stroke="#0020ff" stroke-width="0.5" />
<polygon points="928.0,240.7 928.8,240.9 797.3,173.6 796.5,173.4" fill="#0020ff" stroke="#0020ff" stroke-width="0.5" />
<polygon points="927.1,240.5 928.0,240.7 796.5,173.4 795.6,173.2" fill="#0030ff" stroke="#0030ff" stroke-width="0.5" />
<polygon points="926.3,240.2 927.1,240.5 795.6,173.2 794.8,172.9" fill="#0030ff" stroke="#0030ff" stroke-width="0.5" />
<polygon points="925.4,240.0 926.3,240.2 794.8,172.9 793.9,172.7" fill="#0030ff" stroke="#0030ff" stroke-width="0.5" />
<polygon points="924.6,239.8 925.4,240.0 793.9,172.7 793.1,172.5" fill="#0040ff" stroke="#0040ff" stroke-width="0.5" />
<polygon points="923.7,239.5 924.6,239.8 793.1,172.5 792.2,172.2" fill="#0040ff" stroke="#0040ff" stroke-width="0.5" />
<polygon points="922.8,239.3 923.7,239.5 792.2,172.2 791.3,172.0" fill="#0040ff" stroke="#0040ff" stroke-width="0.5" />
<polygon points="922.0,239.0 922.8,239.3 791.3,172.0 790.5,171.7" fill="#0050ff" stroke="#0050ff" stroke-width="0.5" />
<polygon points="921.1,238.7 922.0,239.0 790.5,171.7 789.6,171.4" fill="#0050ff" stroke="#0050ff" stroke-width="0.5" />
<polygon points="920.3,238.4 921.1,238.7 789.6,171.4 788.8,171.1" fill="#0050ff" stroke="#0050ff" stroke-width="0.5" />
<polygon points="919.4,238.1 920.3,238.4 788.8,171.1 787.9,170.8" fill="#0060ff" stroke="#0060ff" stroke-width="0.5" />
<polygon points="918.5,237.8 919.4,238.1 787.9,170.8 787.0,170.5" fill="#0060ff" stroke="#0060ff" stroke-width="0.5" />
<polygon points="917.7,237.5 918.5,237.8 787.0,170.5 786.2,170.2" fill="#0060ff" stroke="#0060ff" stroke-width="0.5" />
<polygon points="916.8,237.2 917.7,237.5 786.2,170.2 785.3,169.9" fill="#0070ff" stroke="#0070ff" stroke-width="0.5" />
<polygon points="916.0,236.8 916.8,237.2 785.3,169.9 784.5,169.5" fill="#0070ff" stroke="#0070ff" stroke-width="0.5" />
<polygon points="915.1,236.4 916.0,236.8 784.5,169.5 783.6,169.1" fill="#0070ff" stroke="#0070ff" stroke-width="0.5" />
<polygon points="914.2,236.1 915.1,236.4 783.6,169.1 782.7,168.8" fill="#0080ff" stroke="#0080ff" stroke-width="0.5" />
<polygon points="913.4,235.7 914.2,236.1 782.7,168.8 781.9,168.4" fill="#0080ff" stroke="#0080ff" stroke-width="0.5" />
<polygon points="912.5,235.3 913.4,235.7 781.9,168.4 781.0,168.0" fill="#008fff" stroke="#008fff" stroke-width="0.5" />
<polygon points="911.7,234.9 912.5,235.3 781.0,168.0 780.2,167.6" fill="#008fff" stroke="#008fff" stroke-width="0.5" />
<polygon points="910.8,234.4 911.7,234.9 780.2,167.6 779.3,167.1" fill="#008fff" stroke="#008fff" stroke-width="0.5" />
<polygon points="910.0,234.0 910.8,234.4 779.3,167.1 778.5,166.7" fill="#009fff" stroke="#009fff" stroke-width="0.5" />
<polygon points="909.1,233.5 910.0,234.0 778.5,166.7 777.6,166.2" fill="#009fff" stroke="#009fff" stroke-width="0.5" />
<polygon points="908.7,233.2 909.1,233.5 777.6,166.2 777.2,165.9" fill="#00afff" stroke="#00afff" stroke-width="0.5" />
<polygon points="908.2,233.0 908.7,233.2 777.2,165.9 776.7,165.7" fill="#00afff" stroke="#00afff" stroke-width="0.5" />
<polygon points="907.8,232.7 908.2,233.0 776.7,165.7 776.3,165.4" fill="#00afff" stroke="#00afff" stroke-width="0.5" />
<polygon points="907.4,232.4 907.8,232.7 776.3,165.4 775.9,165.1" fill="#00afff" stroke="#00afff" stroke-width="0.5" />
<polygon points="907.0,232.1 907.4,232.4 775.9,165.1 775.5,164.8" fill="#00bfff" stroke="#00bfff" stroke-width="0.5" />
<polygon points="906.5,231.8 907.0,232.1 775.5,164.8 775.0,164.5" fill="#00bfff" stroke="#00bfff" stroke-width="0.5" />
<polygon points="906.1,231.5 906.5,231.8 775.0,164.5 774.6,164.2" fill="#00bfff" stroke="#00bfff" stroke-width="0.5" />
<polygon points="905.7,231.2 906.1,231.5 774.6,164.2 774.2,163.9" fill="#00bfff" stroke="#00bfff" stroke-width="0.5" />
<polygon points="905.2,230.9 905.7,231.2 774.2,163.9 773.7,163.6" fill="#00cfff" stroke="#00cfff" stroke-width="0.5" />
<polygon points="904.8,230.5 905.2,230.9 773.7,163.6 773.3,163.2" fill="#00cfff" stroke="#00cfff" stroke-width="0.5" />
<polygon points="904.4,230.2 904.8,230.5 773.3,163.2 772.9,162.9" fill="#00cfff" stroke="#00cfff" stroke-width="0.5" />
<polygon points="903.9,229.8 904.4,230.2 772.9,162.9 772.4,162.5" fill="#00dfff" stroke="#00dfff" stroke-width="0.5" />
<polygon points="903.5,229.5 903.9,229.8 772.4,162.5 772.0,162.2" fill="#00dfff" stroke="#00dfff" stroke-width="0.5" />
<polygon points="903.1,229.1 903.5,229.5 772.0,162.2 771.6,161.8" fill="#00dfff" stroke="#00dfff" stroke-width="0.5" />
<polygon points="902.7,228.8 903.1,229.1 771.6,161.8 771.2,161.5" fill="#00dfff" stroke="#00dfff" stroke-width="0.5" />
<polygon points="902.2,228.4 902.7,228.8 771.2,161.5 770.7,161.1" fill="#00efff" stroke="#00efff" stroke-width="0.5" />
<polygon points="901.8,228.0 902.2,228.4 770.7,161.1 770.3,160.7" fill="#00efff" stroke="#00efff" stroke-width="0.5" />
<polygon points="901.4,227.6 901.8,228.0 770.3,160.7 769.9,160.3" fill="#00efff" stroke="#00efff" stroke-width="0.5" />
<polygon points="900.9,227.2 901.4,227.6 769.9,160.3 769.4,159.9" fill="#00ffff" stroke="#00ffff" stroke-width="0.5" />
<polygon points="900.5,226.8 900.9,227.2 769.4,159.9 769.0,159.5" fill="#00ffff" stroke="#00ffff" stroke-width="0.5" />
<polygon points="900.1,226.4 900.5,226.8 769.0,159.5 768.6,159.1" fill="#00ffff" stroke="#00ffff" stroke-width="0.5" />
<polygon points="899.7,226.0 900.1,226.4 768.6,159.1 768.2,158.7" fill="#10ffef" stroke="#10ffef" stroke-width="0.5" />
<polygon points="899.2,225.6 899.7,226.0 768.2,158.7 767.7,158.3" fill="#10ffef" stroke="#10ffef" stroke-width="0.5" />
<polygon points="898.8,225.2 899.2,225.6 767.7,158.3 767.3,157.9" fill="#10ffef" stroke="#10ffef" stroke-width="0.5" />
<polygon points="898.4,224.8 898.8,225.2 767.3,157.9 766.9,157.5" fill="#20ffdf" stroke="#20ffdf" stroke-width="0.5" />
<polygon points="897.9,224.4 898.4,224.8 766.9,157.5 766.4,157.1" fill="#20ffdf" stroke="#20ffdf" stroke-width="0.5" />
<polygon points="897.5,223.9 897.9,224.4 766.4,157.1 766.0,156.6" fill="#20ffdf" stroke="#20ffdf" stroke-width="0.5" />
<polygon points="897.1,223.5 897.5,223.9 766.0,156.6 765.6,156.2" fill="#30ffcf" stroke="#30ffcf" stroke-width="0.5" />
<polygon points="896.6,223.1 897.1,223.5 765.6,156.2 765.1,155.8" fill="#30ffcf" stroke="#30ffcf" stroke-width="0.5" />
<polygon points="896.2,222.6 896.6,223.1 765.1,155.8 764.7,155.3" fill="#30ffcf" stroke="#30ffcf" stroke-width="0.5" />
<polygon points="895.8,222.1 896.2,222.6 764.7,155.3 764.3,154.8" fill="#40ffbf" stroke="#40ffbf" stroke-width="0.5" />
<polygon points="895.4,221.6 895.8,222.1 764.3,154.8 763.9,154.3" fill="#40ffbf" stroke="#40ffbf" stroke-width="0.5" />
<polygon points="894.9,221.1 895.4,221.6 763.9,154.3 763.4,153.8" fill="#40ffbf" stroke="#40ffbf" stroke-width="0.5" />
<polygon points="894.5,220.6 894.9,221.1 763.4,153.8 763.0,153.3" fill="#50ffaf" stroke="#50ffaf" stroke-width="0.5" />
<polygon points="894.1,220.1 894.5,220.6 763.0,153.3 762.6,152.8" fill="#50ffaf" stroke="#50ffaf" stroke-width="0.5" />
<polygon points="893.6,219.5 894.1,220.1 762.6,152.8 762.1,152.2" fill="#60ff9f" stroke="#60ff9f" stroke-width="0.5" />
<polygon points="893.2,219.0 893.6,219.5 762.1,152.2 761.7,151.7" fill="#60ff9f" stroke="#60ff9f" stroke-width="0.5" />
<polygon points="892.8,218.4 893.2,219.0 761.7,151.7 761.3,151.1" fill="#70ff8f" stroke="#70ff8f" stroke-width="0.5" />
<polygon points="892.4,217.8 892.8,218.4 761.3,151.1 760.9,150.5" fill="#70ff8f" stroke="#70ff8f" stroke-width="0.5" />
<polygon points="891.9,217.3 892.4,217.8 760.9,150.5 760.4,150.0" fill="#70ff8f" stroke="#70ff8f" stroke-width="0.5" />
<polygon points="891.5,216.7 891.9,217.3 760.4,150.0 760.0,149.4" fill="#80ff80" stroke="#80ff80" stroke-width="0.5" />
<polygon points="891.1,216.1 891.5,216.7 760.0,149.4 759.6,148.8" fill="#80ff80" stroke="#80ff80" stroke-width="0.5" />
<polygon points="890.6,215.5 891.1,216.1 759.6,148.8 759.1,148.2" fill="#8fff70" stroke="#8fff70" stroke-width="0.5" />
<polygon points="890.2,214.9 890.6,215.5 759.1,148.2 758.7,147.6" fill="#8fff70" stroke="#8fff70" stroke-width="0.5" />
<polygon points="889.8,214.3 890.2,214.9 758.7,147.6 758.3,147.0" fill="#9fff60" stroke="#9fff60" stroke-width="0.5" />
<polygon points="889.4,213.7 889.8,214.3 758.3,147.0 757.9,146.4" fill="#9fff60" stroke="#9fff60" stroke-width="0.5" />
<polygon points="888.9,213.1 889.4,213.7 757.9,146.4 757.4,145.8" fill="#9fff60" stroke="#9fff60" stroke-width="0.5" />
<polygon points="888.5,212.5 888.9,213.1 757.4,145.8 757.0,145.2" fill="#afff50" stroke="#afff50" stroke-width="0.5" />
<polygon points="888.1,211.9 888.5,212.5 757.0,145.2 756.6,144.6" fill="#afff50" stroke="#afff50" stroke-width="0.5" />
<polygon points="887.6,211.3 888.1,211.9 756.6,144.6 756.1,144.0" fill="#bfff40" stroke="#bfff40" stroke-width="0.5" />
<polygon points="887.2,210.7 887.6,211.3 756.1,144.0 755.7,143.4" fill="#bfff40" stroke="#bfff40" stroke-width="0.5" />
<polygon points="886.8,210.0 887.2,210.7 755.7,143.4 755.3,142.7" fill="#cfff30" stroke="#cfff30" stroke-width="0.5" />
<polygon points="886.6,209.7 886.8,210.0 755.3,142.7 755.1,142.4" fill="#cfff30" stroke="#cfff30" stroke-width="0.5" />
<polygon points="886.3,209.4 886.6,209.7 755.1,142.4 754.8,142.1" fill="#cfff30" stroke="#cfff30" stroke-width="0.5" />
<polygon points="886.1,209.1 886.3,209.4 754.8,142.1 754.6,141.8" fill="#dfff20" stroke="#dfff20" stroke-width="0.5" />
<polygon points="885.9,208.8 886.1,209.1 754.6,141.8 754.4,141.5" fill="#dfff20" stroke="#dfff20" stroke-width="0.5" />
<polygon points="885.7,208.4 885.9,208.8 754.4,141.5 754.2,141.1" fill="#dfff20" stroke="#dfff20" stroke-width="0.5" />
<polygon points="885.5,208.1 885.7,208.4 754.2,141.1 754.0,140.8" fill="#dfff20" stroke="#dfff20" stroke-width="0.5" />
<polygon points="885.3,207.8 885.5,208.1 754.0,140.8 753.8,140.5" fill="#dfff20" stroke="#dfff20" stroke-width="0.5" />
<polygon points="885.1,207.5 885.3,207.8 753.8,140.5 753.6,140.2" fill="#efff10" stroke="#efff10" stroke-width="0.5" />
<polygon points="884.8,207.1 885.1,207.5 753.6,140.2 753.3,139.8" fill="#efff10" stroke="#efff10" stroke-width="0.5" />
<polygon points="884.6,206.8 884.8,207.1 753.3,139.8 753.1,139.5" fill="#efff10" stroke="#efff10" stroke-width="0.5" />
<polygon points="884.4,206.5 884.6,206.8 753.1,139.5 752.9,139.2" fill="#efff10" stroke="#efff10" stroke-width="0.5" />
<polygon points="884.2,206.1 884.4,206.5 752.9,139.2 752.7,138.8" fill="#ffff00" stroke="#ffff00" stroke-width="0.5" />
<polygon points="884.0,205.8 884.2,206.1 752.7,138.8 752.5,138.5" fill="#ffff00" stroke="#ffff00" stroke-width="0.5" />
<polygon points="883.8,205.5 884.0,205.8 752.5,138.5 752.3,138.2" fill="#ffff00" stroke="#ffff00" stroke-width="0.5" />
<polygon points="883.6,205.1 883.8,205.5 752.3,138.2 752.1,137.8" fill="#ffff00" stroke="#ffff00" stroke-width="0.5" />
<polygon points="883.3,204.8 883.6,205.1 752.1,137.8 751.8,137.5" fill="#ffef00" stroke="#ffef00" stroke-width="0.5" />
<polygon points="883.1,204.5 883.3,204.8 751.8,137.5 751.6,137.2" fill="#ffef00" stroke="#ffef00" stroke-width="0.5" />
<polygon points="882.9,204.1 883.1,204.5 751.6,137.2 751.4,136.8" fill="#ffef00" stroke="#ffef00" stroke-width="0.5" />
<polygon points="882.7,203.8 882.9,204.1 751.4,136.8 751.2,136.5" fill="#ffef00" stroke="#ffef00" stroke-width="0.5" />
<polygon points="882.5,203.5 882.7,203.8 751.2,136.5 751.0,136.2" fill="#ffdf00" stroke="#ffdf00" stroke-width="0.5" />
<polygon points="882.3,203.1 882.5,203.5 751.0,136.2 750.8,135.8" fill="#ffdf00" stroke="#ffdf00" stroke-width="0.5" />
<polygon points="882.1,202.8 882.3,203.1 750.8,135.8 750.6,135.5" fill="#ffdf00" stroke="#ffdf00" stroke-width="0.5" />
<polygon points="881.8,202.4 882.1,202.8 750.6,135.5 750.3,135.1" fill="#ffdf00" stroke="#ffdf00" stroke-width="0.5" />
<polygon points="881.6,202.1 881.8,202.4 750.3,135.1 750.1,134.8" fill="#ffcf00" stroke="#ffcf00" stroke-width="0.5" />
<polygon points="881.4,201.7 881.6,202.1 750.1,134.8 749.9,134.4" fill="#ffcf00" stroke="#ffcf00" stroke-width="0.5" />
<polygon points="881.2,201.4 881.4,201.7 749.9,134.4 749.7,134.1" fill="#ffcf00" stroke="#ffcf00" stroke-width="0.5" />
<polygon points="881.0,201.1 881.2,201.4 749.7,134.1 749.5,133.8" fill="#ffcf00" stroke="#ffcf00" stroke-width="0.5" />
<polygon points="880.8,200.7 881.0,201.1 749.5,133.8 749.3,133.4" fill="#ffbf00" stroke="#ffbf00" stroke-width="0.5" />
<polygon points="880.6,200.4 880.8,200.7 749.3,133.4 749.1,133.1" fill="#ffbf00" stroke="#ffbf00" stroke-width="0.5" />
<polygon points="880.3,200.0 880.6,200.4 749.1,133.1 748.8,132.7" fill="#ffbf00" stroke="#ffbf00" stroke-width="0.5" />
<polygon points="880.1,199.7 880.3,200.0 748.8,132.7 748.6,132.4" fill="#ffbf00" stroke="#ffbf00" stroke-width="0.5" />
<polygon points="879.9,199.3 880.1,199.7 748.6,132.4 748.4,132.0" fill="#ffaf00" stroke="#ffaf00" stroke-width="0.5" />
<polygon points="879.7,199.0 879.9,199.3 748.4,132.0 748.2,131.7" fill="#ffaf00" stroke="#ffaf00" stroke-width="0.5" />
<polygon points="879.5,198.7 879.7,199.0 748.2,131.7 748.0,131.4" fill="#ffaf00" stroke="#ffaf00" stroke-width="0.5" />
<polygon points="879.3,198.3 879.5,198.7 748.0,131.4 747.8,131.0" fill="#ffaf00" stroke="#ffaf00" stroke-width="0.5" />
<polygon points="879.1,198.0 879.3,198.3 747.8,131.0 747.6,130.7" fill="#ff9f00" stroke="#ff9f00" stroke-width="0.5" />
<polygon points="878.8,197.6 879.1,198.0 747.6,130.7 747.3,130.3" fill="#ff9f00" stroke="#ff9f00" stroke-width="0.5" />
<polygon points="878.6,197.3 878.8,197.6 747.3,130.3 747.1,130.0" fill="#ff9f00" stroke="#ff9f00" stroke-width="0.5" />
<polygon points="878.4,196.9 878.6,197.3 747.1,130.0 746.9,129.6" fill="#ff9f00" stroke="#ff9f00" stroke-width="0.5" />
<polygon points="878.2,196.5 878.4,196.9 746.9,129.6 746.7,129.2" fill="#ff8f00" stroke="#ff8f00" stroke-width="0.5" />
<polygon points="878.0,196.2 878.2,196.5 746.7,129.2 746.5,128.9" fill="#ff8f00" stroke="#ff8f00" stroke-width="0.5" />
<polygon points="877.8,195.8 878.0,196.2 746.5,128.9 746.3,128.5" fill="#ff8f00" stroke="#ff8f00" stroke-width="0.5" />
<polygon points="877.5,195.5 877.8,195.8 746.3,128.5 746.0,128.2" fill="#ff8f00" stroke="#ff8f00" stroke-width="0.5" />
<polygon points="877.3,195.1 877.5,195.5 746.0,128.2 745.8,127.8" fill="#ff8000" stroke="#ff8000" stroke-width="0.5" />
<polygon points="877.1,194.7 877.3,195.1 745.8,127.8 745.6,127.4" fill="#ff8000" stroke="#ff8000" stroke-width="0.5" />
<polygon points="876.9,194.4 877.1,194.7 745.6,127.4 745.4,127.1" fill="#ff8000" stroke="#ff8000" stroke-width="0.5" />
<polygon points="876.7,194.0 876.9,194.4 745.4,127.1 745.2,126.7" fill="#ff8000" stroke="#ff8000" stroke-width="0.5" />
<polygon points="876.5,193.6 876.7,194.0 745.2,126.7 745.0,126.3" fill="#ff7000" stroke="#ff7000" stroke-width="0.5" />
<polygon points="876.3,193.3 876.5,193.6 745.0,126.3 744.8,126.0" fill="#ff7000" stroke="#ff7000" stroke-width="0.5" />
<polygon points="876.0,192.9 876.3,193.3 744.8,126.0 744.5,125.6" fill="#ff7000" stroke="#ff7000" stroke-width="0.5" />
<polygon points="875.8,192.5 876.0,192.9 744.5,125.6 744.3,125.2" fill="#ff6000" stroke="#ff6000" stroke-width="0.5" />
<polygon points="875.6,192.2 875.8,192.5 744.3,125.2 744.1,124.9" fill="#ff6000" stroke="#ff6000" stroke-width="0.5" />
<polygon points="875.4,191.8 875.6,192.2 744.1,124.9 743.9,124.5" fill="#ff6000" stroke="#ff6000" stroke-width="0.5" />
<polygon points="875.2,191.4 875.4,191.8 743.9,124.5 743.7,124.1" fill="#ff6000" stroke="#ff6000" stroke-width="0.5" />
<polygon points="875.0,191.1 875.2,191.4 743.7,124.1 743.5,123.8" fill="#ff5000" stroke="#ff5000" stroke-width="0.5" />
<polygon points="874.8,190.7 875.0,191.1 743.5,123.8 743.3,123.4" fill="#ff5000" stroke="#ff5000" stroke-width="0.5" />
<polygon points="874.5,190.3 874.8,190.7 743.3,123.4 743.0,123.0" fill="#ff5000" stroke="#ff5000" stroke-width="0.5" />
<polygon points="874.3,190.0 874.5,190.3 743.0,123.0 742.8,122.7" fill="#ff5000" stroke="#ff5000" stroke-width="0.5" />
<polygon points="874.1,189.6 874.3,190.0 742.8,122.7 742.6,122.3" fill="#ff4000" stroke="#ff4000" stroke-width="0.5" />
<polygon points="873.9,189.3 874.1,189.6 742.6,122.3 742.4,122.0" fill="#ff4000" stroke="#ff4000" stroke-width="0.5" />
<polygon points="873.7,188.9 873.9,189.3 742.4,122.0 742.2,121.6" fill="#ff4000" stroke="#ff4000" stroke-width="0.5" />
<polygon points="873.5,188.6 873.7,188.9 742.2,121.6 742.0,121.3" fill="#ff4000" stroke="#ff4000" stroke-width="0.5" />
<polygon points="873.3,188.2 873.5,188.6 742.0,121.3 741.8,120.9" fill="#ff3000" stroke="#ff3000" stroke-width="0.5" />
<polygon points="873.0,187.9 873.3,188.2 741.8,120.9 741.5,120.6" fill="#ff3000" stroke="#ff3000" stroke-width="0.5" />
<polygon points="872.8,187.6 873.0,187.9 741.5,120.6 741.3,120.3" fill="#ff3000" stroke="#ff3000" stroke-width="0.5" />
<polygon points="872.6,187.2 872.8,187.6 741.3,120.3 741.1,119.9" fill="#ff3000" stroke="#ff3000" stroke-width="0.5" />
<polygon points="872.4,186.9 872.6,187.2 741.1,119.9 740.9,119.6" fill="#ff2000" stroke="#ff2000" stroke-width="0.5" />
<polygon points="872.2,186.6 872.4,186.9 740.9,119.6 740.7,119.3" fill="#ff2000" stroke="#ff2000" stroke-width="0.5" />
<polygon points="872.0,186.3 872.2,186.6 740.7,119.3 740.5,119.0" fill="#ff2000" stroke="#ff2000" stroke-width="0.5" />
<polygon points="871.8,186.0 872.0,186.3 740.5,119.0 740.3,118.7" fill="#ff2000" stroke="#ff2000" stroke-width="0.5" />
<polygon points="871.5,185.6 871.8,186.0 740.3,118.7 740.0,118.3" fill="#ff1000" stroke="#ff1000" stroke-width="0.5" />
<polygon points="871.3,185.3 871.5,185.6 740.0,118.3 739.8,118.0" fill="#ff1000" stroke="#ff1000" stroke-width="0.5" />
<polygon points="871.1,185.0 871.3,185.3 739.8,118.0 739.6,117.7" fill="#ff1000" stroke="#ff1000" stroke-width="0.5" />
<polygon points="870.9,184.7 871.1,185.0 739.6,117.7 739.4,117.4" fill="#ff1000" stroke="#ff1000" stroke-width="0.5" />
<polygon points="870.7,184.4 870.9,184.7 739.4,117.4 739.2,117.1" fill="#ff1000" stroke="#ff1000" stroke-width="0.5" />
<polygon points="870.5,184.1 870.7,184.4 739.2,117.1 739.0,116.8" fill="#ff0000" stroke="#ff0000" stroke-width="0.5" />
<polygon points="870.3,183.8 870.5,184.1 739.0,116.8 738.8,116.5" fill="#ff0000" stroke="#ff0000" stroke-width="0.5" />
<polygon points="870.0,183.4 870.3,183.8 738.8,116.5 738.5,116.1" fill="#ff0000" stroke="#ff0000" stroke-width="0.5" />
<polygon points="869.8,183.1 870.0,183.4 738.5,116.1 738.3,115.8" fill="#ff0000" stroke="#ff0000" stroke-width="0.5" />
<polygon points="869.4,182.5 869.8,183.1 738.3,115.8 737.9,115.2" fill="#ef0000" stroke="#ef0000" stroke-width="0.5" />
<polygon points="869.0,181.9 869.4,182.5 737.9,115.2 737.5,114.6" fill="#ef0000" stroke="#ef0000" stroke-width="0.5" />
<polygon points="868.5,181.3 869.0,181.9 737.5,114.6 737.0,114.0" fill="#df0000" stroke="#df0000" stroke-width="0.5" />
<polygon points="868.1,180.7 868.5,181.3 737.0,114.0 736.6,113.4" fill="#df0000" stroke="#df0000" stroke-width="0.5" />
<polygon points="867.7,180.1 868.1,180.7 736.6,113.4 736.2,112.8" fill="#cf0000" stroke="#cf0000" stroke-width="0.5" />
<polygon points="867.2,179.5 867.7,180.1 736.2,112.8 735.7,112.2" fill="#cf0000" stroke="#cf0000" stroke-width="0.5" />
<polygon points="866.8,178.9 867.2,179.5 735.7,112.2 735.3,111.6" fill="#cf0000" stroke="#cf0000" stroke-width="0.5" />
<polygon points="866.4,178.3 866.8,178.9 735.3,111.6 734.9,111.0" fill="#bf0000" stroke="#bf0000" stroke-width="0.5" />
<polygon points="866.0,177.8 866.4,178.3 734.9,111.0 734.5,110.5" fill="#bf0000" stroke="#bf0000" stroke-width="0.5" />
<polygon points="865.5,177.3 866.0,177.8 734.5,110.5 734.0,110.0" fill="#af0000" stroke="#af0000" stroke-width="0.5" />
<polygon points="865.1,176.7 865.5,177.3 734.0,110.0 733.6,109.4" fill="#af0000" stroke="#af0000" stroke-width="0.5" />
<polygon points="864.7,176.2 865.1,176.7 733.6,109.4 733.2,108.9" fill="#9f0000" stroke="#9f0000" stroke-width="0.5" />
<polygon points="864.2,175.7 864.7,176.2 733.2,108.9 732.7,108.4" fill="#9f0000" stroke="#9f0000" stroke-width="0.5" />
<polygon points="863.8,175.3 864.2,175.7 732.7,108.4 732.3,108.0" fill="#9f0000" stroke="#9f0000" stroke-width="0.5" />
<polygon points="863.4,174.8 863.8,175.3 732.3,108.0 731.9,107.5" fill="#8f0000" stroke="#8f0000" stroke-width="0.5" />
<polygon points="863.0,174.4 863.4,174.8 731.9,107.5 731.5,107.1" fill="#8f0000" stroke="#8f0000" stroke-width="0.5" />
<polygon points="862.5,174.0 863.0,174.4 731.5,107.1 731.0,106.7" fill="#8f0000" stroke="#8f0000" stroke-width="0.5" />
<polygon points="862.1,173.6 862.5,174.0 731.0,106.7 730.6,106.3" fill="#800000" stroke="#800000" stroke-width="0.5" />
<polygon points="861.7,173.1 862.1,173.6 730.6,106.3 730.2,105.8" fill="#800000" stroke="#800000" stroke-width="0.5" />
<polygon points="861.2,172.7 861.7,173.1 730.2,105.8 729.7,105.4" fill="#800000" stroke="#800000" stroke-width="0.5" />
<polygon points="860.8,172.3 861.2,172.7 729.7,105.4 729.3,105.0" fill="#800000" stroke="#800000" stroke-width="0.5" />
<polygon points="860.4,172.1 860.8,172.3 729.3,105.0 728.9,104.8" fill="#800000" stroke="#800000" stroke-width="0.5" />
<polygon points="858.7,173.2 860.4,172.1 728.9,104.8 727.2,105.9" fill="#800000" stroke="#800000" stroke-width="0.5" />
<polygon points="858.2,174.0 858.7,173.2 727.2,105.9 726.7,106.7" fill="#800000" stroke="#800000" stroke-width="0.5" />
<polygon points="857.8,174.7 858.2,174.0 726.7,106.7 726.3,107.4" fill="#800000" stroke="#800000" stroke-width="0.5" />
<polygon points="857.4,175.4 857.8,174.7 726.3,107.4 725.9,108.1" fill="#800000" stroke="#800000" stroke-width="0.5" />
<polygon points="856.9,176.1 857.4,175.4 725.9,108.1 725.4,108.8" fill="#8f0000" stroke="#8f0000" stroke-width="0.5" />
<polygon points="856.5,176.9 856.9,176.1 725.4,108.8 725.0,109.6" fill="#8f0000" stroke="#8f0000" stroke-width="0.5" />
<polygon points="856.1,177.6 856.5,176.9 725.0,109.6 724.6,110.3" fill="#8f0000" stroke="#8f0000" stroke-width="0.5" />
<polygon points="855.7,178.4 856.1,177.6 724.6,110.3 724.2,111.1" fill="#9f0000" stroke="#9f0000" stroke-width="0.5" />
<polygon points="855.2,179.3 855.7,178.4 724.2,111.1 723.7,112.0" fill="#9f0000" stroke="#9f0000" stroke-width="0.5" />
<polygon points="855.0,179.7 855.2,179.3 723.7,112.0 723.5,112.4" fill="#af0000" stroke="#af0000" stroke-width="0.5" />
<polygon points="854.8,180.2 855.0,179.7 723.5,112.4 723.3,112.9" fill="#af0000" stroke="#af0000" stroke-width="0.5" />
<polygon points="854.6,180.7 854.8,180.2 723.3,112.9 723.1,113.4" fill="#af0000" stroke="#af0000" stroke-width="0.5" />
<polygon points="854.4,181.3 854.6,180.7 723.1,113.4 722.9,114.0" fill="#af0000" stroke="#af0000" stroke-width="0.5" />
<polygon points="854.2,181.8 854.4,181.3 722.9,114.0 722.7,114.5" fill="#bf0000" stroke="#bf0000" stroke-width="0.5" />
<polygon points="853.9,182.4 854.2,181.8 722.7,114.5 722.4,115.1" fill="#bf0000" stroke="#bf0000" stroke-width="0.5" />
<polygon points="853.7,183.0 853.9,182.4 722.4,115.1 722.2,115.7" fill="#bf0000" stroke="#bf0000" stroke-width="0.5" />
<polygon points="853.5,183.6 853.7,183.0 722.2,115.7 722.0,116.3" fill="#cf0000" stroke="#cf0000" stroke-width="0.5" />
<polygon points="853.3,184.2 853.5,183.6 722.0,116.3 721.8,116.9" fill="#cf0000" stroke="#cf0000" stroke-width="0.5" />
<polygon points="853.1,184.9 853.3,184.2 721.8,116.9 721.6,117.6" fill="#cf0000" stroke="#cf0000" stroke-width="0.5" />
<polygon points="852.9,185.7 853.1,184.9 721.6,117.6 721.4,118.4" fill="#df0000" stroke="#df0000" stroke-width="0.5" />
<polygon points="852.8,186.1 852.9,185.7 721.4,118.4 721.3,118.8" fill="#df0000" stroke="#df0000" stroke-width="0.5" />
<polygon points="852.7,186.6 852.8,186.1 721.3,118.8 721.2,119.3" fill="#df0000" stroke="#df0000" stroke-width="0.5" />
<polygon points="852.5,187.0 852.7,186.6 721.2,119.3 721.0,119.7" fill="#ef0000" stroke="#ef0000" stroke-width="0.5" />
<polygon points="852.4,187.5 852.5,187.0 721.0,119.7 720.9,120.2" fill="#ef0000" stroke="#ef0000" stroke-width="0.5" />
<polygon points="852.3,188.1 852.4,187.5 720.9,120.2 720.8,120.8" fill="#ef0000" stroke="#ef0000" stroke-width="0.5" />
<polygon points="852.2,188.6 852.3,188.1 720.8,120.8 720.7,121.3" fill="#ef0000" stroke="#ef0000" stroke-width="0.5" />
<polygon points="852.1,189.2 852.2,188.6 720.7,121.3 720.6,121.9" fill="#ff0000" stroke="#ff0000" stroke-width="0.5" />
<polygon points="852.0,189.9 852.1,189.2 720.6,121.9 720.5,122.6" fill="#ff0000" stroke="#ff0000" stroke-width="0.5" />
<polygon points="851.9,190.5 852.0,189.9 720.5,122.6 720.4,123.2" fill="#ff0000" stroke="#ff0000" stroke-width="0.5" />
<polygon points="851.8,191.2 851.9,190.5 720.4,123.2 720.3,123.9" fill="#ff1000" stroke="#ff1000" stroke-width="0.5" />
<polygon points="851.7,192.0 851.8,191.2 720.3,123.9 720.2,124.7" fill="#ff1000" stroke="#ff1000" stroke-width="0.5" />
<polygon points="851.6,192.4 851.7,192.0 720.2,124.7 720.1,125.1" fill="#ff2000" stroke="#ff2000" stroke-width="0.5" />
<polygon points="851.6,192.9 851.6,192.4 720.1,125.1 720.1,125.6" fill="#ff2000" stroke="#ff2000" stroke-width="0.5" />
<polygon points="851.5,193.6 851.6,192.9 720.1,125.6 720.0,126.3" fill="#ff2000" stroke="#ff2000" stroke-width="0.5" />
<polygon points="851.5,194.3 851.5,193.6 720.0,126.3 720.0,127.0" fill="#ff3000" stroke="#ff3000" stroke-width="0.5" />
<polygon points="851.4,194.7 851.5,194.3 720.0,127.0 719.9,127.4" fill="#ff3000" stroke="#ff3000" stroke-width="0.5" />
<polygon points="851.4,195.2 851.4,194.7 719.9,127.4 719.9,127.9" fill="#ff3000" stroke="#ff3000" stroke-width="0.5" />
<polygon points="851.4,195.6 851.4,195.2 719.9,127.9 719.9,128.3" fill="#ff4000" stroke="#ff4000" stroke-width="0.5" />
<polygon points="851.4,196.1 851.4,195.6 719.9,128.3 719.9,128.8" fill="#ff4000" stroke="#ff4000" stroke-width="0.5" />
<polygon points="851.3,196.6 851.4,196.1 719.9,128.8 719.8,129.3" fill="#ff4000" stroke="#ff4000" stroke-width="0.5" />
<polygon points="851.3,197.1 851.3,196.6 719.8,129.3 719.8,129.8" fill="#ff4000" stroke="#ff4000" stroke-width="0.5" />
<polygon points="851.3,197.6 851.3,197.1 719.8,129.8 719.8,130.3" fill="#ff5000" stroke="#ff5000" stroke-width="0.5" />
<polygon points="851.3,198.2 851.3,197.6 719.8,130.3 719.8,130.9" fill="#ff5000" stroke="#ff5000" stroke-width="0.5" />
<polygon points="851.2,198.7 851.3,198.2 719.8,130.9 719.7,131.4" fill="#ff5000" stroke="#ff5000" stroke-width="0.5" />
<polygon points="851.2,199.3 851.2,198.7 719.7,131.4 719.7,132.0" fill="#ff6000" stroke="#ff6000" stroke-width="0.5" />
<polygon points="851.2,199.8 851.2,199.3 719.7,132.0 719.7,132.5" fill="#ff6000" stroke="#ff6000" stroke-width="0.5" />
<polygon points="851.1,200.4 851.2,199.8 719.7,132.5 719.6,133.1" fill="#ff6000" stroke="#ff6000" stroke-width="0.5" />
<polygon points="851.1,201.0 851.1,200.4 719.6,133.1 719.6,133.7" fill="#ff7000" stroke="#ff7000" stroke-width="0.5" />
<polygon points="851.1,201.5 851.1,201.0 719.6,133.7 719.6,134.2" fill="#ff7000" stroke="#ff7000" stroke-width="0.5" />
<polygon points="851.1,202.1 851.1,201.5 719.6,134.2 719.6,134.8" fill="#ff7000" stroke="#ff7000" stroke-width="0.5" />
<polygon points="851.0,202.7 851.1,202.1 719.6,134.8 719.5,135.4" fill="#ff8000" stroke="#ff8000" stroke-width="0.5" />
<polygon points="851.0,203.2 851.0,202.7 719.5,135.4 719.5,135.9" fill="#ff8000" stroke="#ff8000" stroke-width="0.5" />
<polygon points="851.0,203.8 851.0,203.2 719.5,135.9 719.5,136.5" fill="#ff8000" stroke="#ff8000" stroke-width="0.5" />
<polygon points="851.0,204.4 851.0,203.8 719.5,136.5 719.5,137.1" fill="#ff8f00" stroke="#ff8f00" stroke-width="0.5" />
<polygon points="850.9,204.9 851.0,204.4 719.5,137.1 719.4,137.6" fill="#ff8f00" stroke="#ff8f00" stroke-width="0.5" />
<polygon points="850.9,205.5 850.9,204.9 719.4,137.6 719.4,138.2" fill="#ff8f00" stroke="#ff8f00" stroke-width="0.5" />
<polygon points="850.9,206.0 850.9,205.5 719.4,138.2 719.4,138.7" fill="#ff9f00" stroke="#ff9f00" stroke-width="0.5" />
<polygon points="850.9,206.5 850.9,206.0 719.4,138.7 719.4,139.2" fill="#ff9f00" stroke="#ff9f00" stroke-width="0.5" />
<polygon points="850.8,207.0 850.9,206.5 719.4,139.2 719.3,139.7" fill="#ff9f00" stroke="#ff9f00" stroke-width="0.5" />
<polygon points="850.8,207.5 850.8,207.0 719.3,139.7 719.3,140.2" fill="#ffaf00" stroke="#ffaf00" stroke-width="0.5" />
<polygon points="385.9,607.8 386.3,607.8 260.8,539.2 260.4,539.2" fill="#0000af" stroke="#0000af" stroke-width="0.5" />
<polygon points="384.3,608.0 385.9,607.8 260.4,539.2 258.8,539.4" fill="#0000af" stroke="#0000af" stroke-width="0.5" />
<polygon points="382.7,608.1 384.3,608.0 258.8,539.4 257.2,539.5" fill="#0000af" stroke="#0000af" stroke-width="0.5" />
<polygon points="381.1,608.3 382.7,608.1 257.2,539.5 255.6,539.7" fill="#0000af" stroke="#0000af" stroke-width="0.5" />
<polygon points="379.5,608.5 381.1,608.3 255.6,539.7 254.0,539.9" fill="#0000af" stroke="#0000af" stroke-width="0.5" />
<polygon points="377.9,608.7 379.5,608.5 254.0,539.9 252.4,540.1" fill="#0000af" stroke="#0000af" stroke-width="0.5" />
<polygon points="376.2,609.0 377.9,608.7 252.4,540.1 250.7,540.4" fill="#0000af" stroke="#0000af" stroke-width="0.5" />
<polygon points="374.6,609.2 376.2,609.0 250.7,540.4 249.1,540.6" fill="#0000bf" stroke="#0000bf" stroke-width="0.5" />
<polygon points="373.0,609.4 374.6,609.2 249.1,540.6 247.5,540.8" fill="#0000bf" stroke="#0000bf" stroke-width="0.5" />
<polygon points="371.4,609.6 373.0,609.4 247.5,540.8 245.9,541.0" fill="#0000bf" stroke="#0000bf" stroke-width="0.5" />
<polygon points="369.8,609.8 371.4,609.6 245.9,541.0 244.3,541.2" fill="#0000bf" stroke="#0000bf" stroke-width="0.5" />
<polygon points="368.2,610.0 369.8,609.8 244.3,541.2 242.7,541.4" fill="#0000bf" stroke="#0000bf" stroke-width="0.5" />
<polygon points="366.6,610.2 368.2,610.0 242.7,541.4 241.1,541.6" fill="#0000bf" stroke="#0000bf" stroke-width="0.5" />
<polygon points="365.0,610.4 366.6,610.2 241.1,541.6 239.5,541.8" fill="#0000bf" stroke="#0000bf" stroke-width="0.5" />
<polygon points="363.4,610.6 365.0,610.4 239.5,541.8 237.9,542.0" fill="#0000bf" stroke="#0000bf" stroke-width="0.5" />
<polygon points="361.7,610.8 363.4,610.6 237.9,542.0 236.2,542.2" fill="#0000cf" stroke="#0000cf" stroke-width="0.5" />
<polygon points="360.1,610.9 361.7,610.8 236.2,542.2 234.6,542.3" fill="#0000cf" stroke="#0000cf" stroke-width="0.5" />
<polygon points="358.5,611.1 360.1,610.9 234.6,542.3 233.0,542.5" fill="#0000cf" stroke="#0000cf" stroke-width="0.5" />
<polygon points="356.9,611.2 358.5,611.1 233.0,542.5 231.4,542.6" fill="#0000cf" stroke="#0000cf" stroke-width="0.5" />
<polygon points="355.3,611.3 356.9,611.2 231.4,542.6 229.8,542.7" fill="#0000cf" stroke="#0000cf" stroke-width="0.5" />
<polygon points="353.7,611.3 355.3,611.3 229.8,542.7 228.2,542.7" fill="#0000cf" stroke="#0000cf" stroke-width="0.5" />
<polygon points="352.1,611.4 353.7,611.3 228.2,542.7 226.6,542.8" fill="#0000df" stroke="#0000df" stroke-width="0.5" />
<polygon points="350.5,611.4 352.1,611.4 226.6,542.8 225.0,542.8" fill="#0000df" stroke="#0000df" stroke-width="0.5" />
<polygon points="348.9,611.4 350.5,611.4 225.0,542.8 223.4,542.8" fill="#0000df" stroke="#0000df" stroke-width="0.5" />
<polygon points="347.2,611.3 348.9,611.4 223.4,542.8 221.7,542.7" fill="#0000df" stroke="#0000df" stroke-width="0.5" />
<polygon points="345.6,611.1 347.2,611.3 221.7,542.7 220.1,542.5" fill="#0000ef" stroke="#0000ef" stroke-width="0.5" />
<polygon points="344.0,610.9 345.6,611.1 220.1,542.5 218.5,542.3" fill="#0000ef" stroke="#0000ef" stroke-width="0.5" />
<polygon points="342.4,610.6 344.0,610.9 218.5,542.3 216.9,542.0" fill="#0000ef" stroke="#0000ef" stroke-width="0.5" />
<polygon points="340.8,610.2 342.4,610.6 216.9,542.0 215.3,541.6" fill="#0000ff" stroke="#0000ff" stroke-width="0.5" />
<polygon points="340.0,609.9 340.8,610.2 215.3,541.6 214.5,541.3" fill="#0000ff" stroke="#0000ff" stroke-width="0.5" />
<polygon points="339.2,609.7 340.0,609.9 214.5,541.3 213.7,541.1" fill="#0000ff" stroke="#0000ff" stroke-width="0.5" />
<polygon points="338.4,609.4 339.2,609.7 213.7,541.1 212.9,540.8" fill="#0000ff" stroke="#0000ff" stroke-width="0.5" />
<polygon points="337.6,609.2 338.4,609.4 212.9,540.8 212.1,540.6" fill="#0000ff" stroke="#0000ff" stroke-width="0.5" />
<polygon points="336.8,608.9 337.6,609.2 212.1,540.6 211.3,540.3" fill="#0010ff" stroke="#0010ff" stroke-width="0.5" />
<polygon points="336.0,608.6 336.8,608.9 211.3,540.3 210.5,540.0" fill="#0010ff" stroke="#0010ff" stroke-width="0.5" />
<polygon points="335.2,608.3 336.0,608.6 210.5,540.0 209.7,539.7" fill="#0010ff" stroke="#0010ff" stroke-width="0.5" />
<polygon points="334.4,607.9 335.2,608.3 209.7,539.7 208.9,539.3" fill="#0010ff" stroke="#0010ff" stroke-width="0.5" />
<polygon points="333.6,607.6 334.4,607.9 208.9,539.3 208.1,539.0" fill="#0020ff" stroke="#0020ff" stroke-width="0.5" />
<polygon points="332.7,607.2 333.6,607.6 208.1,539.0 207.2,538.6" fill="#0020ff" stroke="#0020ff" stroke-width="0.5" />
<polygon points="331.9,606.9 332.7,607.2 207.2,538.6 206.4,538.3" fill="#0020ff" stroke="#0020ff" stroke-width="0.5" />
<polygon points="331.1,606.5 331.9,606.9 206.4,538.3 205.6,537.9" fill="#0020ff" stroke="#0020ff" stroke-width="0.5" />
<polygon points="330.3,606.1 331.1,606.5 205.6,537.9 204.8,537.5" fill="#0030ff" stroke="#0030ff" stroke-width="0.5" />
<polygon points="329.5,605.7 330.3,606.1 204.8,537.5 204.0,537.1" fill="#0030ff" stroke="#0030ff" stroke-width="0.5" />
<polygon points="328.7,605.3 329.5,605.7 204.0,537.1 203.2,536.7" fill="#0030ff" stroke="#0030ff" stroke-width="0.5" />
<polygon points="327.9,604.8 328.7,605.3 203.2,536.7 202.4,536.2" fill="#0040ff" stroke="#0040ff" stroke-width="0.5" />
<polygon points="327.1,604.4 327.9,604.8 202.4,536.2 201.6,535.8" fill="#0040ff" stroke="#0040ff" stroke-width="0.5" />
<polygon points="326.3,604.0 327.1,604.4 201.6,535.8 200.8,535.4" fill="#0040ff" stroke="#0040ff" stroke-width="0.5" />
<polygon points="325.5,603.5 326.3,604.0 200.8,535.4 200.0,534.9" fill="#0040ff" stroke="#0040ff" stroke-width="0.5" />
<polygon points="324.7,603.0 325.5,603.5 200.0,534.9 199.2,534.4" fill="#0050ff" stroke="#0050ff" stroke-width="0.5" />
<polygon points="323.9,602.6 324.7,603.0 199.2,534.4 198.4,534.0" fill="#0050ff" stroke="#0050ff" stroke-width="0.5" />
<polygon points="323.1,602.1 323.9,602.6 198.4,534.0 197.6,533.5" fill="#0050ff" stroke="#0050ff" stroke-width="0.5" />
<polygon points="322.3,601.6 323.1,602.1 197.6,533.5 196.8,533.0" fill="#0060ff" stroke="#0060ff" stroke-width="0.5" />
<polygon points="321.5,601.1 322.3,601.6 196.8,533.0 196.0,532.5" fill="#0060ff" stroke="#0060ff" stroke-width="0.5" />
<polygon points="320.7,600.6 321.5,601.1 196.0,532.5 195.2,532.0" fill="#0060ff" stroke="#0060ff" stroke-width="0.5" />
<polygon points="319.9,600.0 320.7,600.6 195.2,532.0 194.4,531.4" fill="#0070ff" stroke="#0070ff" stroke-width="0.5" />
<polygon points="319.1,599.4 319.9,600.0 194.4,531.4 193.6,530.8" fill="#0070ff" stroke="#0070ff" stroke-width="0.5" />
<polygon points="318.3,598.8 319.1,599.4 193.6,530.8 192.8,530.2" fill="#0070ff" stroke="#0070ff" stroke-width="0.5" />
<polygon points="317.4,598.2 318.3,598.8 192.8,530.2 191.9,529.6" fill="#0080ff" stroke="#0080ff" stroke-width="0.5" />
<polygon points="316.6,597.5 317.4,598.2 191.9,529.6 191.1,528.9" fill="#0080ff" stroke="#0080ff" stroke-width="0.5" />
<polygon points="315.8,596.9 316.6,597.5 191.1,528.9 190.3,528.3" fill="#0080ff" stroke="#0080ff" stroke-width="0.5" />
<polygon points="315.4,596.5 315.8,596.9 190.3,528.3 189.9,527.9" fill="#008fff" stroke="#008fff" stroke-width="0.5" />
<polygon points="315.0,596.2 315.4,596.5 189.9,527.9 189.5,527.6" fill="#008fff" stroke="#008fff" stroke-width="0.5" />
<polygon points="314.6,595.8 315.0,596.2 189.5,527.6 189.1,527.2" fill="#008fff" stroke="#008fff" stroke-width="0.5" />
<polygon points="314.2,595.4 314.6,595.8 189.1,527.2 188.7,526.8" fill="#008fff" stroke="#008fff" stroke-width="0.5" />
<polygon points="313.8,595.1 314.2,595.4 188.7,526.8 188.3,526.5" fill="#009fff" stroke="#009fff" stroke-width="0.5" />
<polygon points="313.4,594.7 313.8,595.1 188.3,526.5 187.9,526.1" fill="#009fff" stroke="#009fff" stroke-width="0.5" />
<polygon points="313.0,594.3 313.4,594.7 187.9,526.1 187.5,525.7" fill="#009fff" stroke="#009fff" stroke-width="0.5" />
<polygon points="312.6,593.9 313.0,594.3 187.5,525.7 187.1,525.3" fill="#009fff" stroke="#009fff" stroke-width="0.5" />
<polygon points="312.2,593.5 312.6,593.9 187.1,525.3 186.7,524.9" fill="#009fff" stroke="#009fff" stroke-width="0.5" />
<polygon points="311.8,593.1 312.2,593.5 186.7,524.9 186.3,524.5" fill="#00afff" stroke="#00afff" stroke-width="0.5" />
<polygon points="311.4,592.7 311.8,593.1 186.3,524.5 185.9,524.1" fill="#00afff" stroke="#00afff" stroke-width="0.5" />
<polygon points="311.0,592.3 311.4,592.7 185.9,524.1 185.5,523.7" fill="#00afff" stroke="#00afff" stroke-width="0.5" />
<polygon points="310.6,591.9 311.0,592.3 185.5,523.7 185.1,523.3" fill="#00afff" stroke="#00afff" stroke-width="0.5" />
<polygon points="310.2,591.4 310.6,591.9 185.1,523.3 184.7,522.8" fill="#00bfff" stroke="#00bfff" stroke-width="0.5" />
<polygon points="309.8,591.0 310.2,591.4 184.7,522.8 184.3,522.4" fill="#00bfff" stroke="#00bfff" stroke-width="0.5" />
<polygon points="309.4,590.6 309.8,591.0 184.3,522.4 183.9,522.0" fill="#00bfff" stroke="#00bfff" stroke-width="0.5" />
<polygon points="309.0,590.1 309.4,590.6 183.9,522.0 183.5,521.5" fill="#00bfff" stroke="#00bfff" stroke-width="0.5" />
<polygon points="308.6,589.7 309.0,590.1 183.5,521.5 183.1,521.1" fill="#00bfff" stroke="#00bfff" stroke-width="0.5" />
<polygon points="308.2,589.2 308.6,589.7 183.1,521.1 182.7,520.6" fill="#00cfff" stroke="#00cfff" stroke-width="0.5" />
<polygon points="307.8,588.8 308.2,589.2 182.7,520.6 182.3,520.2" fill="#00cfff" stroke="#00cfff" stroke-width="0.5" />
<polygon points="307.4,588.3 307.8,588.8 182.3,520.2 181.9,519.7" fill="#00cfff" stroke="#00cfff" stroke-width="0.5" />
<polygon points="307.0,587.8 307.4,588.3 181.9,519.7 181.5,519.2" fill="#00cfff" stroke="#00cfff" stroke-width="0.5" />
<polygon points="306.6,587.4 307.0,587.8 181.5,519.2 181.1,518.8" fill="#00dfff" stroke="#00dfff" stroke-width="0.5" />
<polygon points="306.2,586.9 306.6,587.4 181.1,518.8 180.7,518.3" fill="#00dfff" stroke="#00dfff" stroke-width="0.5" />
<polygon points="305.8,586.4 306.2,586.9 180.7,518.3 180.3,517.8" fill="#00dfff" stroke="#00dfff" stroke-width="0.5" />
<polygon points="305.4,585.9 305.8,586.4 180.3,517.8 179.9,517.3" fill="#00dfff" stroke="#00dfff" stroke-width="0.5" />
<polygon points="305.0,585.4 305.4,585.9 179.9,517.3 179.5,516.8" fill="#00efff" stroke="#00efff" stroke-width="0.5" />
<polygon points="304.6,584.9 305.0,585.4 179.5,516.8 179.1,516.3" fill="#00efff" stroke="#00efff" stroke-width="0.5" />
<polygon points="304.2,584.4 304.6,584.9 179.1,516.3 178.7,515.8" fill="#00efff" stroke="#00efff" stroke-width="0.5" />
<polygon points="303.8,583.9 304.2,584.4 178.7,515.8 178.3,515.3" fill="#00ffff" stroke="#00ffff" stroke-width="0.5" />
<polygon points="303.3,583.4 303.8,583.9 178.3,515.3 177.8,514.8" fill="#00ffff" stroke="#00ffff" stroke-width="0.5" />
<polygon points="302.9,582.9 303.3,583.4 177.8,514.8 177.4,514.3" fill="#00ffff" stroke="#00ffff" stroke-width="0.5" />
<polygon points="302.5,582.3 302.9,582.9 177.4,514.3 177.0,513.7" fill="#00ffff" stroke="#00ffff" stroke-width="0.5" />
<polygon points="302.1,581.8 302.5,582.3 177.0,513.7 176.6,513.2" fill="#10ffef" stroke="#10ffef" stroke-width="0.5" />
<polygon points="301.7,581.3 302.1,581.8 176.6,513.2 176.2,512.7" fill="#10ffef" stroke="#10ffef" stroke-width="0.5" />
<polygon points="301.3,580.7 301.7,581.3 176.2,512.7 175.8,512.1" fill="#10ffef" stroke="#10ffef" stroke-width="0.5" />
<polygon points="300.9,580.2 301.3,580.7 175.8,512.1 175.4,511.6" fill="#10ffef" stroke="#10ffef" stroke-width="0.5" />
<polygon points="300.5,579.6 300.9,580.2 175.4,511.6 175.0,511.0" fill="#20ffdf" stroke="#20ffdf" stroke-width="0.5" />
<polygon points="300.1,579.1 300.5,579.6 175.0,511.0 174.6,510.5" fill="#20ffdf" stroke="#20ffdf" stroke-width="0.5" />
<polygon points="299.7,578.5 300.1,579.1 174.6,510.5 174.2,509.9" fill="#20ffdf" stroke="#20ffdf" stroke-width="0.5" />
<polygon points="299.3,578.0 299.7,578.5 174.2,509.9 173.8,509.4" fill="#30ffcf" stroke="#30ffcf" stroke-width="0.5" />
<polygon points="298.9,577.4 299.3,578.0 173.8,509.4 173.4,508.8" fill="#30ffcf" stroke="#30ffcf" stroke-width="0.5" />
<polygon points="298.5,576.8 298.9,577.4 173.4,508.8 173.0,508.2" fill="#30ffcf" stroke="#30ffcf" stroke-width="0.5" />
<polygon points="298.1,576.2 298.5,576.8 173.0,508.2 172.6,507.6" fill="#30ffcf" stroke="#30ffcf" stroke-width="0.5" />
<polygon points="297.7,575.6 298.1,576.2 172.6,507.6 172.2,507.0" fill="#40ffbf" stroke="#40ffbf" stroke-width="0.5" />
<polygon points="297.3,574.9 297.7,575.6 172.2,507.0 171.8,506.3" fill="#40ffbf" stroke="#40ffbf" stroke-width="0.5" />
<polygon points="296.9,574.2 297.3,574.9 171.8,506.3 171.4,505.6" fill="#40ffbf" stroke="#40ffbf" stroke-width="0.5" />
<polygon points="296.5,573.6 296.9,574.2 171.4,505.6 171.0,505.0" fill="#50ffaf" stroke="#50ffaf" stroke-width="0.5" />
<polygon points="296.1,572.9 296.5,573.6 171.0,505.0 170.6,504.3" fill="#50ffaf" stroke="#50ffaf" stroke-width="0.5" />
<polygon points="295.7,572.1 296.1,572.9 170.6,504.3 170.2,503.5" fill="#50ffaf" stroke="#50ffaf" stroke-width="0.5" />
<polygon points="295.3,571.4 295.7,572.1 170.2,503.5 169.8,502.8" fill="#60ff9f" stroke="#60ff9f" stroke-width="0.5" />
<polygon points="294.9,570.7 295.3,571.4 169.8,502.8 169.4,502.1" fill="#60ff9f" stroke="#60ff9f" stroke-width="0.5" />
<polygon points="294.5,569.9 294.9,570.7 169.4,502.1 169.0,501.3" fill="#70ff8f" stroke="#70ff8f" stroke-width="0.5" />
<polygon points="294.1,569.2 294.5,569.9 169.0,501.3 168.6,500.6" fill="#70ff8f" stroke="#70ff8f" stroke-width="0.5" />
<polygon points="293.7,568.4 294.1,569.2 168.6,500.6 168.2,499.8" fill="#70ff8f" stroke="#70ff8f" stroke-width="0.5" />
<polygon points="293.3,567.6 293.7,568.4 168.2,499.8 167.8,499.0" fill="#80ff80" stroke="#80ff80" stroke-width="0.5" />
<polygon points="292.9,566.8 293.3,567.6 167.8,499.0 167.4,498.2" fill="#80ff80" stroke="#80ff80" stroke-width="0.5" />
<polygon points="292.5,566.0 292.9,566.8 167.4,498.2 167.0,497.4" fill="#80ff80" stroke="#80ff80" stroke-width="0.5" />
<polygon points="292.3,565.6 292.5,566.0 167.0,497.4 166.8,497.0" fill="#8fff70" stroke="#8fff70" stroke-width="0.5" />
<polygon points="292.1,565.2 292.3,565.6 166.8,497.0 166.6,496.6" fill="#8fff70" stroke="#8fff70" stroke-width="0.5" />
<polygon points="291.9,564.7 292.1,565.2 166.6,496.6 166.4,496.1" fill="#8fff70" stroke="#8fff70" stroke-width="0.5" />
<polygon points="291.7,564.3 291.9,564.7 166.4,496.1 166.2,495.7" fill="#8fff70" stroke="#8fff70" stroke-width="0.5" />
<polygon points="291.5,563.9 291.7,564.3 166.2,495.7 166.0,495.3" fill="#9fff60" stroke="#9fff60" stroke-width="0.5" />
<polygon points="291.3,563.5 291.5,563.9 166.0,495.3 165.8,494.9" fill="#9fff60" stroke="#9fff60" stroke-width="0.5" />
<polygon points="291.1,563.1 291.3,563.5 165.8,494.9 165.6,494.5" fill="#9fff60" stroke="#9fff60" stroke-width="0.5" />
<polygon points="290.9,562.7 291.1,563.1 165.6,494.5 165.4,494.1" fill="#9fff60" stroke="#9fff60" stroke-width="0.5" />
<polygon points="290.7,562.2 290.9,562.7 165.4,494.1 165.2,493.6" fill="#9fff60" stroke="#9fff60" stroke-width="0.5" />
<polygon points="290.5,561.8 290.7,562.2 165.2,493.6 165.0,493.2" fill="#afff50" stroke="#afff50" stroke-width="0.5" />
<polygon points="290.3,561.4 290.5,561.8 165.0,493.2 164.8,492.8" fill="#afff50" stroke="#afff50" stroke-width="0.5" />
<polygon points="290.1,561.0 290.3,561.4 164.8,492.8 164.6,492.4" fill="#afff50" stroke="#afff50" stroke-width="0.5" />
<polygon points="289.9,560.5 290.1,561.0 164.6,492.4 164.4,491.9" fill="#afff50" stroke="#afff50" stroke-width="0.5" />
<polygon points="289.7,560.1 289.9,560.5 164.4,491.9 164.2,491.5" fill="#afff50" stroke="#afff50" stroke-width="0.5" />
<polygon points="289.5,559.7 289.7,560.1 164.2,491.5 164.0,491.1" fill="#bfff40" stroke="#bfff40" stroke-width="0.5" />
<polygon points="289.3,559.2 289.5,559.7 164.0,491.1 163.8,490.6" fill="#bfff40" stroke="#bfff40" stroke-width="0.5" />
<polygon points="289.1,558.8 289.3,559.2 163.8,490.6 163.6,490.2" fill="#bfff40" stroke="#bfff40" stroke-width="0.5" />
<polygon points="288.8,558.4 289.1,558.8 163.6,490.2 163.3,489.8" fill="#bfff40" stroke="#bfff40" stroke-width="0.5" />
<polygon points="288.6,557.9 288.8,558.4 163.3,489.8 163.1,489.3" fill="#bfff40" stroke="#bfff40" stroke-width="0.5" />
<polygon points="288.4,557.5 288.6,557.9 163.1,489.3 162.9,488.9" fill="#cfff30" stroke="#cfff30" stroke-width="0.5" />
<polygon points="288.2,557.1 288.4,557.5 162.9,488.9 162.7,488.5" fill="#cfff30" stroke="#cfff30" stroke-width="0.5" />
<polygon points="288.0,556.6 288.2,557.1 162.7,488.5 162.5,488.0" fill="#cfff30" stroke="#cfff30" stroke-width="0.5" />
<polygon points="287.8,556.2 288.0,556.6 162.5,488.0 162.3,487.6" fill="#cfff30" stroke="#cfff30" stroke-width="0.5" />
<polygon points="287.6,555.7 287.8,556.2 162.3,487.6 162.1,487.1" fill="#cfff30" stroke="#cfff30" stroke-width="0.5" />
<polygon points="287.4,555.3 287.6,555.7 162.1,487.1 161.9,486.7" fill="#dfff20" stroke="#dfff20" stroke-width="0.5" />
<polygon points="287.2,554.9 287.4,555.3 161.9,486.7 161.7,486.3" fill="#dfff20" stroke="#dfff20" stroke-width="0.5" />
<polygon points="287.0,554.4 287.2,554.9 161.7,486.3 161.5,485.8" fill="#dfff20" stroke="#dfff20" stroke-width="0.5" />
<polygon points="286.8,554.0 287.0,554.4 161.5,485.8 161.3,485.4" fill="#dfff20" stroke="#dfff20" stroke-width="0.5" />
<polygon points="286.6,553.5 286.8,554.0 161.3,485.4 161.1,484.9" fill="#dfff20" stroke="#dfff20" stroke-width="0.5" />
<polygon points="286.4,553.1 286.6,553.5 161.1,484.9 160.9,484.5" fill="#efff10" stroke="#efff10" stroke-width="0.5" />
<polygon points="286.2,552.7 286.4,553.1 160.9,484.5 160.7,484.1" fill="#efff10" stroke="#efff10" stroke-width="0.5" />
<polygon points="286.0,552.2 286.2,552.7 160.7,484.1 160.5,483.6" fill="#efff10" stroke="#efff10" stroke-width="0.5" />
<polygon points="285.8,551.8 286.0,552.2 160.5,483.6 160.3,483.2" fill="#efff10" stroke="#efff10" stroke-width="0.5" />
<polygon points="285.6,551.4 285.8,551.8 160.3,483.2 160.1,482.8" fill="#ffff00" stroke="#ffff00" stroke-width="0.5" />
<polygon points="285.4,550.9 285.6,551.4 160.1,482.8 159.9,482.3" fill="#ffff00" stroke="#ffff00" stroke-width="0.5" />
<polygon points="285.2,550.5 285.4,550.9 159.9,482.3 159.7,481.9" fill="#ffff00" stroke="#ffff00" stroke-width="0.5" />
<polygon points="285.0,550.0 285.2,550.5 159.7,481.9 159.5,481.4" fill="#ffff00" stroke="#ffff00" stroke-width="0.5" />
<polygon points="284.8,549.6 285.0,550.0 159.5,481.4 159.3,481.0" fill="#ffff00" stroke="#ffff00" stroke-width="0.5" />
<polygon points="284.6,549.1 284.8,549.6 159.3,481.0 159.1,480.5" fill="#ffef00" stroke="#ffef00" stroke-width="0.5" />
<polygon points="284.4,548.7 284.6,549.1 159.1,480.5 158.9,480.1" fill="#ffef00" stroke="#ffef00" stroke-width="0.5" />
<polygon points="284.2,548.2 284.4,548.7 158.9,480.1 158.7,479.6" fill="#ffef00" stroke="#ffef00" stroke-width="0.5" />
<polygon points="284.0,547.7 284.2,548.2 158.7,479.6 158.5,479.1" fill="#ffef00" stroke="#ffef00" stroke-width="0.5" />
<polygon points="283.8,547.3 284.0,547.7 158.5,479.1 158.3,478.7" fill="#ffef00" stroke="#ffef00" stroke-width="0.5" />
<polygon points="283.6,546.8 283.8,547.3 158.3,478.7 158.1,478.2" fill="#ffdf00" stroke="#ffdf00" stroke-width="0.5" />
<polygon points="283.4,546.3 283.6,546.8 158.1,478.2 157.9,477.7" fill="#ffdf00" stroke="#ffdf00" stroke-width="0.5" />
<polygon points="283.2,545.8 283.4,546.3 157.9,477.7 157.7,477.2" fill="#ffdf00" stroke="#ffdf00" stroke-width="0.5" />
<polygon points="283.0,545.3 283.2,545.8 157.7,477.2 157.5,476.7" fill="#ffdf00" stroke="#ffdf00" stroke-width="0.5" />
<polygon points="282.8,544.8 283.0,545.3 157.5,476.7 157.3,476.2" fill="#ffcf00" stroke="#ffcf00" stroke-width="0.5" />
<polygon points="282.6,544.3 282.8,544.8 157.3,476.2 157.1,475.7" fill="#ffcf00" stroke="#ffcf00" stroke-width="0.5" />
<polygon points="282.4,543.8 282.6,544.3 157.1,475.7 156.9,475.2" fill="#ffcf00" stroke="#ffcf00" stroke-width="0.5" />
<polygon points="282.2,543.3 282.4,543.8 156.9,475.2 156.7,474.7" fill="#ffcf00" stroke="#ffcf00" stroke-width="0.5" />
<polygon points="282.0,542.8 282.2,543.3 156.7,474.7 156.5,474.2" fill="#ffbf00" stroke="#ffbf00" stroke-width="0.5" />
<polygon points="281.8,542.3 282.0,542.8 156.5,474.2 156.3,473.7" fill="#ffbf00" stroke="#ffbf00" stroke-width="0.5" />
<polygon points="281.6,541.8 281.8,542.3 156.3,473.7 156.1,473.2" fill="#ffbf00" stroke="#ffbf00" stroke-width="0.5" />
<polygon points="281.4,541.3 281.6,541.8 156.1,473.2 155.9,472.7" fill="#ffbf00" stroke="#ffbf00" stroke-width="0.5" />
<polygon points="281.2,540.8 281.4,541.3 155.9,472.7 155.7,472.2" fill="#ffaf00" stroke="#ffaf00" stroke-width="0.5" />
<polygon points="281.0,540.3 281.2,540.8 155.7,472.2 155.5,471.7" fill="#ffaf00" stroke="#ffaf00" stroke-width="0.5" />
<polygon points="280.8,539.8 281.0,540.3 155.5,471.7 155.3,471.2" fill="#ffaf00" stroke="#ffaf00" stroke-width="0.5" />
<polygon points="280.6,539.3 280.8,539.8 155.3,471.2 155.1,470.7" fill="#ffaf00" stroke="#ffaf00" stroke-width="0.5" />
<polygon points="280.4,538.7 280.6,539.3 155.1,470.7 154.9,470.1" fill="#ffaf00" stroke="#ffaf00" stroke-width="0.5" />
<polygon points="280.2,538.2 280.4,538.7 154.9,470.1 154.7,469.6" fill="#ff9f00" stroke="#ff9f00" stroke-width="0.5" />
<polygon points="280.0,537.7 280.2,538.2 154.7,469.6 154.5,469.1" fill="#ff9f00" stroke="#ff9f00" stroke-width="0.5" />
<polygon points="279.8,537.2 280.0,537.7 154.5,469.1 154.3,468.6" fill="#ff9f00" stroke="#ff9f00" stroke-width="0.5" />
<polygon points="279.6,536.7 279.8,537.2 154.3,468.6 154.1,468.1" fill="#ff9f00" stroke="#ff9f00" stroke-width="0.5" />
<polygon points="279.4,536.2 279.6,536.7 154.1,468.1 153.9,467.6" fill="#ff8f00" stroke="#ff8f00" stroke-width="0.5" />
<polygon points="279.2,535.7 279.4,536.2 153.9,467.6 153.7,467.1" fill="#ff8f00" stroke="#ff8f00" stroke-width="0.5" />
<polygon points="279.0,535.1 279.2,535.7 153.7,467.1 153.5,466.5" fill="#ff8f00" stroke="#ff8f00" stroke-width="0.5" />
<polygon points="278.8,534.6 279.0,535.1 153.5,466.5 153.3,466.0" fill="#ff8f00" stroke="#ff8f00" stroke-width="0.5" />
<polygon points="278.6,534.1 278.8,534.6 153.3,466.0 153.1,465.5" fill="#ff8000" stroke="#ff8000" stroke-width="0.5" />
<polygon points="278.4,533.6 278.6,534.1 153.1,465.5 152.9,465.0" fill="#ff8000" stroke="#ff8000" stroke-width="0.5" />
<polygon points="278.2,533.1 278.4,533.6 152.9,465.0 152.7,464.5" fill="#ff8000" stroke="#ff8000" stroke-width="0.5" />
<polygon points="278.0,532.6 278.2,533.1 152.7,464.5 152.5,464.0" fill="#ff8000" stroke="#ff8000" stroke-width="0.5" />
<polygon points="277.8,532.1 278.0,532.6 152.5,464.0 152.3,463.5" fill="#ff7000" stroke="#ff7000" stroke-width="0.5" />
<polygon points="277.6,531.6 277.8,532.1 152.3,463.5 152.1,463.0" fill="#ff7000" stroke="#ff7000" stroke-width="0.5" />
<polygon points="277.4,531.1 277.6,531.6 152.1,463.0 151.9,462.5" fill="#ff7000" stroke="#ff7000" stroke-width="0.5" />
<polygon points="277.2,530.6 277.4,531.1 151.9,462.5 151.7,462.0" fill="#ff7000" stroke="#ff7000" stroke-width="0.5" />
<polygon points="277.0,530.1 277.2,530.6 151.7,462.0 151.5,461.5" fill="#ff6000" stroke="#ff6000" stroke-width="0.5" />
<polygon points="276.8,529.6 277.0,530.1 151.5,461.5 151.3,461.0" fill="#ff6000" stroke="#ff6000" stroke-width="0.5" />
<polygon points="276.6,529.1 276.8,529.6 151.3,461.0 151.1,460.5" fill="#ff6000" stroke="#ff6000" stroke-width="0.5" />
<polygon points="276.4,528.6 276.6,529.1 151.1,460.5 150.9,460.0" fill="#ff6000" stroke="#ff6000" stroke-width="0.5" />
<polygon points="276.2,528.1 276.4,528.6 150.9,460.0 150.7,459.5" fill="#ff6000" stroke="#ff6000" stroke-width="0.5" />
<polygon points="276.0,527.6 276.2,528.1 150.7,459.5 150.5,459.0" fill="#ff5000" stroke="#ff5000" stroke-width="0.5" />
<polygon points="275.8,527.2 276.0,527.6 150.5,459.0 150.3,458.6" fill="#ff5000" stroke="#ff5000" stroke-width="0.5" />
<polygon points="275.6,526.7 275.8,527.2 150.3,458.6 150.1,458.1" fill="#ff5000" stroke="#ff5000" stroke-width="0.5" />
<polygon points="275.4,526.2 275.6,526.7 150.1,458.1 149.9,457.6" fill="#ff5000" stroke="#ff5000" stroke-width="0.5" />
<polygon points="275.2,525.8 275.4,526.2 149.9,457.6 149.7,457.2" fill="#ff4000" stroke="#ff4000" stroke-width="0.5" />
<polygon points="275.0,525.3 275.2,525.8 149.7,457.2 149.5,456.7" fill="#ff4000" stroke="#ff4000" stroke-width="0.5" />
<polygon points="274.8,524.8 275.0,525.3 149.5,456.7 149.3,456.2" fill="#ff4000" stroke="#ff4000" stroke-width="0.5" />
<polygon points="274.6,524.4 274.8,524.8 149.3,456.2 149.1,455.8" fill="#ff4000" stroke="#ff4000" stroke-width="0.5" />
<polygon points="274.4,523.9 274.6,524.4 149.1,455.8 148.9,455.3" fill="#ff4000" stroke="#ff4000" stroke-width="0.5" />
<polygon points="274.1,523.5 274.4,523.9 148.9,455.3 148.6,454.9" fill="#ff3000" stroke="#ff3000" stroke-width="0.5" />
<polygon points="273.9,523.1 274.1,523.5 148.6,454.9 148.4,454.5" fill="#ff3000" stroke="#ff3000" stroke-width="0.5" />
<polygon points="273.7,522.6 273.9,523.1 148.4,454.5 148.2,454.0" fill="#ff3000" stroke="#ff3000" stroke-width="0.5" />
<polygon points="273.5,522.2 273.7,522.6 148.2,454.0 148.0,453.6" fill="#ff3000" stroke="#ff3000" stroke-width="0.5" />
<polygon points="273.3,521.8 273.5,522.2 148.0,453.6 147.8,453.2" fill="#ff2000" stroke="#ff2000" stroke-width="0.5" />
<polygon points="273.1,521.3 273.3,521.8 147.8,453.2 147.6,452.7" fill="#ff2000" stroke="#ff2000" stroke-width="0.5" />
<polygon points="272.9,520.9 273.1,521.3 147.6,452.7 147.4,452.3" fill="#ff2000" stroke="#ff2000" stroke-width="0.5" />
<polygon points="272.7,520.4 272.9,520.9 147.4,452.3 147.2,451.8" fill="#ff2000" stroke="#ff2000" stroke-width="0.5" />
<polygon points="272.5,520.0 272.7,520.4 147.2,451.8 147.0,451.4" fill="#ff2000" stroke="#ff2000" stroke-width="0.5" />
<polygon points="272.3,519.5 272.5,520.0 147.0,451.4 146.8,450.9" fill="#ff1000" stroke="#ff1000" stroke-width="0.5" />
<polygon points="272.1,519.0 272.3,519.5 146.8,450.9 146.6,450.4" fill="#ff1000" stroke="#ff1000" stroke-width="0.5" />
<polygon points="271.9,518.6 272.1,519.0 146.6,450.4 146.4,450.0" fill="#ff1000" stroke="#ff1000" stroke-width="0.5" />
<polygon points="271.7,518.1 271.9,518.6 146.4,450.0 146.2,449.5" fill="#ff1000" stroke="#ff1000" stroke-width="0.5" />
<polygon points="271.5,517.7 271.7,518.1 146.2,449.5 146.0,449.1" fill="#ff1000" stroke="#ff1000" stroke-width="0.5" />
<polygon points="271.3,517.2 271.5,517.7 146.0,449.1 145.8,448.6" fill="#ff0000" stroke="#ff0000" stroke-width="0.5" />
<polygon points="271.1,516.8 271.3,517.2 145.8,448.6 145.6,448.2" fill="#ff0000" stroke="#ff0000" stroke-width="0.5" />
<polygon points="270.9,516.3 271.1,516.8 145.6,448.2 145.4,447.7" fill="#ff0000" stroke="#ff0000" stroke-width="0.5" />
<polygon points="270.7,515.8 270.9,516.3 145.4,447.7 145.2,447.2" fill="#ff0000" stroke="#ff0000" stroke-width="0.5" />
<polygon points="270.5,515.4 270.7,515.8 145.2,447.2 145.0,446.8" fill="#ef0000" stroke="#ef0000" stroke-width="0.5" />
<polygon points="270.3,514.9 270.5,515.4 145.0,446.8 144.8,446.3" fill="#ef0000" stroke="#ef0000" stroke-width="0.5" />
<polygon points="270.1,514.5 270.3,514.9 144.8,446.3 144.6,445.9" fill="#ef0000" stroke="#ef0000" stroke-width="0.5" />
<polygon points="269.9,514.1 270.1,514.5 144.6,445.9 144.4,445.5" fill="#ef0000" stroke="#ef0000" stroke-width="0.5" />
<polygon points="269.7,513.6 269.9,514.1 144.4,445.5 144.2,445.0" fill="#ef0000" stroke="#ef0000" stroke-width="0.5" />
<polygon points="269.5,513.2 269.7,513.6 144.2,445.0 144.0,444.6" fill="#df0000" stroke="#df0000" stroke-width="0.5" />
<polygon points="269.3,512.8 269.5,513.2 144.0,444.6 143.8,444.2" fill="#df0000" stroke="#df0000" stroke-width="0.5" />
<polygon points="269.1,512.3 269.3,512.8 143.8,444.2 143.6,443.7" fill="#df0000" stroke="#df0000" stroke-width="0.5" />
<polygon points="268.9,511.9 269.1,512.3 143.6,443.7 143.4,443.3" fill="#df0000" stroke="#df0000" stroke-width="0.5" />
<polygon points="268.7,511.5 268.9,511.9 143.4,443.3 143.2,442.9" fill="#df0000" stroke="#df0000" stroke-width="0.5" />
<polygon points="268.5,511.1 268.7,511.5 143.2,442.9 143.0,442.5" fill="#cf0000" stroke="#cf0000" stroke-width="0.5" />
<polygon points="268.1,510.3 268.5,511.1 143.0,442.5 142.6,441.7" fill="#cf0000" stroke="#cf0000" stroke-width="0.5" />
<polygon points="267.7,509.6 268.1,510.3 142.6,441.7 142.2,441.0" fill="#cf0000" stroke="#cf0000" stroke-width="0.5" />
<polygon points="267.3,508.8 267.7,509.6 142.2,441.0 141.8,440.2" fill="#bf0000" stroke="#bf0000" stroke-width="0.5" />
<polygon points="266.9,508.1 267.3,508.8 141.8,440.2 141.4,439.5" fill="#bf0000" stroke="#bf0000" stroke-width="0.5" />
<polygon points="266.5,507.5 266.9,508.1 141.4,439.5 141.0,438.9" fill="#bf0000" stroke="#bf0000" stroke-width="0.5" />
<polygon points="266.1,506.9 266.5,507.5 141.0,438.9 140.6,438.3" fill="#af0000" stroke="#af0000" stroke-width="0.5" />
<polygon points="265.7,506.3 266.1,506.9 140.6,438.3 140.2,437.7" fill="#af0000" stroke="#af0000" stroke-width="0.5" />
<polygon points="265.3,505.8 265.7,506.3 140.2,437.7 139.8,437.2" fill="#af0000" stroke="#af0000" stroke-width="0.5" />
<polygon points="264.9,505.4 265.3,505.8 139.8,437.2 139.4,436.8" fill="#af0000" stroke="#af0000" stroke-width="0.5" />
<polygon points="264.5,505.0 264.9,505.4 139.4,436.8 139.0,436.4" fill="#9f0000" stroke="#9f0000" stroke-width="0.5" />
<polygon points="264.1,504.5 264.5,505.0 139.0,436.4 138.6,435.9" fill="#9f0000" stroke="#9f0000" stroke-width="0.5" />
<polygon points="263.7,504.1 264.1,504.5 138.6,435.9 138.2,435.5" fill="#9f0000" stroke="#9f0000" stroke-width="0.5" />
<polygon points="263.3,503.7 263.7,504.1 138.2,435.5 137.8,435.1" fill="#9f0000" stroke="#9f0000" stroke-width="0.5" />
<polygon points="262.9,503.3 263.3,503.7 137.8,435.1 137.4,434.7" fill="#8f0000" stroke="#8f0000" stroke-width="0.5" />
<polygon points="262.1,502.7 262.9,503.3 137.4,434.7 136.6,434.1" fill="#8f0000" stroke="#8f0000" stroke-width="0.5" />
<polygon points="260.5,502.4 262.1,502.7 136.6,434.1 135.0,433.8" fill="#8f0000" stroke="#8f0000" stroke-width="0.5" />
<polygon points="258.8,503.8 260.5,502.4 135.0,433.8 133.3,435.2" fill="#8f0000" stroke="#8f0000" stroke-width="0.5" />
<polygon points="258.0,505.0 258.8,503.8 133.3,435.2 132.5,436.4" fill="#8f0000" stroke="#8f0000" stroke-width="0.5" />
<polygon points="257.6,505.6 258.0,505.0 132.5,436.4 132.1,437.0" fill="#8f0000" stroke="#8f0000" stroke-width="0.5" />
<polygon points="257.2,506.3 257.6,505.6 132.1,437.0 131.7,437.7" fill="#9f0000" stroke="#9f0000" stroke-width="0.5" />
<polygon points="256.8,507.0 257.2,506.3 131.7,437.7 131.3,438.4" fill="#9f0000" stroke="#9f0000" stroke-width="0.5" />
<polygon points="256.4,507.7 256.8,507.0 131.3,438.4 130.9,439.1" fill="#9f0000" stroke="#9f0000" stroke-width="0.5" />
<polygon points="256.0,508.6 256.4,507.7 130.9,439.1 130.5,440.0" fill="#9f0000" stroke="#9f0000" stroke-width="0.5" />
<polygon points="255.6,509.5 256.0,508.6 130.5,440.0 130.1,440.9" fill="#af0000" stroke="#af0000" stroke-width="0.5" />
<polygon points="255.2,510.6 255.6,509.5 130.1,440.9 129.7,442.0" fill="#af0000" stroke="#af0000" stroke-width="0.5" />
<polygon points="255.0,511.2 255.2,510.6 129.7,442.0 129.5,442.6" fill="#af0000" stroke="#af0000" stroke-width="0.5" />
<polygon points="254.8,511.8 255.0,511.2 129.5,442.6 129.3,443.2" fill="#bf0000" stroke="#bf0000" stroke-width="0.5" />
<polygon points="254.6,512.4 254.8,511.8 129.3,443.2 129.1,443.8" fill="#bf0000" stroke="#bf0000" stroke-width="0.5" />
<polygon points="254.4,513.0 254.6,512.4 129.1,443.8 128.9,444.4" fill="#bf0000" stroke="#bf0000" stroke-width="0.5" />
<polygon points="254.2,513.7 254.4,513.0 128.9,444.4 128.7,445.1" fill="#bf0000" stroke="#bf0000" stroke-width="0.5" />
<polygon points="254.0,514.4 254.2,513.7 128.7,445.1 128.5,445.8" fill="#cf0000" stroke="#cf0000" stroke-width="0.5" />
<polygon points="253.8,515.1 254.0,514.4 128.5,445.8 128.3,446.5" fill="#cf0000" stroke="#cf0000" stroke-width="0.5" />
<polygon points="253.6,515.8 253.8,515.1 128.3,446.5 128.1,447.2" fill="#cf0000" stroke="#cf0000" stroke-width="0.5" />
<polygon points="253.4,516.5 253.6,515.8 128.1,447.2 127.9,447.9" fill="#cf0000" stroke="#cf0000" stroke-width="0.5" />
<polygon points="253.2,517.3 253.4,516.5 127.9,447.9 127.7,448.7" fill="#df0000" stroke="#df0000" stroke-width="0.5" />
<polygon points="253.0,518.1 253.2,517.3 127.7,448.7 127.5,449.5" fill="#df0000" stroke="#df0000" stroke-width="0.5" />
<polygon points="252.8,519.0 253.0,518.1 127.5,449.5 127.3,450.4" fill="#df0000" stroke="#df0000" stroke-width="0.5" />
<polygon points="252.6,519.9 252.8,519.0 127.3,450.4 127.1,451.3" fill="#ef0000" stroke="#ef0000" stroke-width="0.5" />
<polygon points="252.4,520.8 252.6,519.9 127.1,451.3 126.9,452.2" fill="#ef0000" stroke="#ef0000" stroke-width="0.5" />
<polygon points="252.2,521.8 252.4,520.8 126.9,452.2 126.7,453.2" fill="#ef0000" stroke="#ef0000" stroke-width="0.5" />
<polygon points="252.1,522.3 252.2,521.8 126.7,453.2 126.6,453.7" fill="#ff0000" stroke="#ff0000" stroke-width="0.5" />
<polygon points="252.0,522.8 252.1,522.3 126.6,453.7 126.5,454.2" fill="#ff0000" stroke="#ff0000" stroke-width="0.5" />
<polygon points="251.9,523.4 252.0,522.8 126.5,454.2 126.4,454.8" fill="#ff0000" stroke="#ff0000" stroke-width="0.5" />
<polygon points="251.8,523.9 251.9,523.4 126.4,454.8 126.3,455.3" fill="#ff0000" stroke="#ff0000" stroke-width="0.5" />
<polygon points="251.7,524.4 251.8,523.9 126.3,455.3 126.2,455.8" fill="#ff0000" stroke="#ff0000" stroke-width="0.5" />
<polygon points="251.6,525.0 251.7,524.4 126.2,455.8 126.1,456.4" fill="#ff1000" stroke="#ff1000" stroke-width="0.5" />
<polygon points="251.5,525.6 251.6,525.0 126.1,456.4 126.0,457.0" fill="#ff1000" stroke="#ff1000" stroke-width="0.5" />
<polygon points="251.4,526.1 251.5,525.6 126.0,457.0 125.9,457.5" fill="#ff1000" stroke="#ff1000" stroke-width="0.5" />
<polygon points="251.3,526.7 251.4,526.1 125.9,457.5 125.8,458.1" fill="#ff1000" stroke="#ff1000" stroke-width="0.5" />
<polygon points="251.2,527.3 251.3,526.7 125.8,458.1 125.7,458.7" fill="#ff2000" stroke="#ff2000" stroke-width="0.5" />
<polygon points="251.1,527.9 251.2,527.3 125.7,458.7 125.6,459.3" fill="#ff2000" stroke="#ff2000" stroke-width="0.5" />
<polygon points="251.0,528.5 251.1,527.9 125.6,459.3 125.5,459.9" fill="#ff2000" stroke="#ff2000" stroke-width="0.5" />
<polygon points="250.9,529.2 251.0,528.5 125.5,459.9 125.4,460.6" fill="#ff2000" stroke="#ff2000" stroke-width="0.5" />
<polygon points="250.8,529.8 250.9,529.2 125.4,460.6 125.3,461.2" fill="#ff3000" stroke="#ff3000" stroke-width="0.5" />
<polygon points="250.7,530.4 250.8,529.8 125.3,461.2 125.2,461.8" fill="#ff3000" stroke="#ff3000" stroke-width="0.5" />
<polygon points="250.6,531.1 250.7,530.4 125.2,461.8 125.1,462.5" fill="#ff3000" stroke="#ff3000" stroke-width="0.5" />
<polygon points="250.5,531.7 250.6,531.1 125.1,462.5 125.0,463.1" fill="#ff3000" stroke="#ff3000" stroke-width="0.5" />
<polygon points="250.4,532.4 250.5,531.7 125.0,463.1 124.9,463.8" fill="#ff4000" stroke="#ff4000" stroke-width="0.5" />
<polygon points="250.3,533.1 250.4,532.4 124.9,463.8 124.8,464.5" fill="#ff4000" stroke="#ff4000" stroke-width="0.5" />
<polygon points="250.2,533.9 250.3,533.1 124.8,464.5 124.7,465.3" fill="#ff4000" stroke="#ff4000" stroke-width="0.5" />
<polygon points="250.1,534.6 250.2,533.9 124.7,465.3 124.6,466.0" fill="#ff4000" stroke="#ff4000" stroke-width="0.5" />
<polygon points="250.0,535.4 250.1,534.6 124.6,466.0 124.5,466.8" fill="#ff5000" stroke="#ff5000" stroke-width="0.5" />
<polygon points="249.9,536.2 250.0,535.4 124.5,466.8 124.4,467.6" fill="#ff5000" stroke="#ff5000" stroke-width="0.5" />
<polygon points="249.8,537.0 249.9,536.2 124.4,467.6 124.3,468.4" fill="#ff5000" stroke="#ff5000" stroke-width="0.5" />
<polygon points="249.7,537.8 249.8,537.0 124.3,468.4 124.2,469.2" fill="#ff6000" stroke="#ff6000" stroke-width="0.5" />
<polygon points="249.6,538.6 249.7,537.8 124.2,469.2 124.1,470.0" fill="#ff6000" stroke="#ff6000" stroke-width="0.5" />
<polygon points="249.5,539.5 249.6,538.6 124.1,470.0 124.0,470.9" fill="#ff6000" stroke="#ff6000" stroke-width="0.5" />
<polygon points="249.4,540.3 249.5,539.5 124.0,470.9 123.9,471.7" fill="#ff7000" stroke="#ff7000" stroke-width="0.5" />
<polygon points="249.3,541.2 249.4,540.3 123.9,471.7 123.8,472.6" fill="#ff7000" stroke="#ff7000" stroke-width="0.5" />
<polygon points="249.2,542.1 249.3,541.2 123.8,472.6 123.7,473.5" fill="#ff7000" stroke="#ff7000" stroke-width="0.5" />
<polygon points="249.1,543.0 249.2,542.1 123.7,473.5 123.6,474.4" fill="#ff8000" stroke="#ff8000" stroke-width="0.5" />
<polygon points="249.0,543.9 249.1,543.0 123.6,474.4 123.5,475.3" fill="#ff8000" stroke="#ff8000" stroke-width="0.5" />
<polygon points="248.9,544.8 249.0,543.9 123.5,475.3 123.4,476.2" fill="#ff8000" stroke="#ff8000" stroke-width="0.5" />
<polygon points="248.8,545.7 248.9,544.8 123.4,476.2 123.3,477.1" fill="#ff8f00" stroke="#ff8f00" stroke-width="0.5" />
<polygon points="248.7,546.7 248.8,545.7 123.3,477.1 123.2,478.1" fill="#ff8f00" stroke="#ff8f00" stroke-width="0.5" />
<polygon points="248.6,547.6 248.7,546.7 123.2,478.1 123.1,479.0" fill="#ff9f00" stroke="#ff9f00" stroke-width="0.5" />
<polygon points="248.5,548.5 248.6,547.6 123.1,479.0 123.0,479.9" fill="#ff9f00" stroke="#ff9f00" stroke-width="0.5" />
<polygon points="248.4,549.5 248.5,548.5 123.0,479.9 122.9,480.9" fill="#ff9f00" stroke="#ff9f00" stroke-width="0.5" />
<polygon points="248.3,550.5 248.4,549.5 122.9,480.9 122.8,481.9" fill="#ffaf00" stroke="#ffaf00" stroke-width="0.5" />
<polygon points="248.2,551.4 248.3,550.5 122.8,481.9 122.7,482.8" fill="#ffaf00" stroke="#ffaf00" stroke-width="0.5" />
<polygon points="248.1,552.4 248.2,551.4 122.7,482.8 122.6,483.8" fill="#ffbf00" stroke="#ffbf00" stroke-width="0.5" />
<polygon points="248.0,553.4 248.1,552.4 122.6,483.8 122.5,484.8" fill="#ffbf00" stroke="#ffbf00" stroke-width="0.5" />
<polygon points="247.9,554.3 248.0,553.4 122.5,484.8 122.4,485.7" fill="#ffbf00" stroke="#ffbf00" stroke-width="0.5" />
<polygon points="247.8,554.8 247.9,554.3 122.4,485.7 122.3,486.2" fill="#ffcf00" stroke="#ffcf00" stroke-width="0.5" />
<polygon points="247.8,555.3 247.8,554.8 122.3,486.2 122.3,486.7" fill="#ffcf00" stroke="#ffcf00" stroke-width="0.5" />
<polygon points="247.7,555.8 247.8,555.3 122.3,486.7 122.2,487.2" fill="#ffcf00" stroke="#ffcf00" stroke-width="0.5" />
<polygon points="247.7,556.3 247.7,555.8 122.2,487.2 122.2,487.7" fill="#ffcf00" stroke="#ffcf00" stroke-width="0.5" />
<polygon points="247.6,556.8 247.7,556.3 122.2,487.7 122.1,488.2" fill="#ffcf00" stroke="#ffcf00" stroke-width="0.5" />
<polygon points="247.6,557.3 247.6,556.8 122.1,488.2 122.1,488.7" fill="#ffdf00" stroke="#ffdf00" stroke-width="0.5" />
<polygon points="247.5,557.8 247.6,557.3 122.1,488.7 122.0,489.2" fill="#ffdf00" stroke="#ffdf00" stroke-width="0.5" />
<polygon points="247.5,558.3 247.5,557.8 122.0,489.2 122.0,489.7" fill="#ffdf00" stroke="#ffdf00" stroke-width="0.5" />
<polygon points="247.4,558.7 247.5,558.3 122.0,489.7 121.9,490.1" fill="#ffdf00" stroke="#ffdf00" stroke-width="0.5" />
<polygon points="247.4,559.2 247.4,558.7 121.9,490.1 121.9,490.6" fill="#ffdf00" stroke="#ffdf00" stroke-width="0.5" />
<polygon points="247.3,560.2 247.4,559.2 121.9,490.6 121.8,491.6" fill="#ffef00" stroke="#ffef00" stroke-width="0.5" />
<polygon points="247.2,561.2 247.3,560.2 121.8,491.6 121.7,492.6" fill="#ffef00" stroke="#ffef00" stroke-width="0.5" />
<polygon points="247.1,562.1 247.2,561.2 121.7,492.6 121.6,493.5" fill="#ffef00" stroke="#ffef00" stroke-width="0.5" />
<polygon points="247.0,563.1 247.1,562.1 121.6,493.5 121.5,494.5" fill="#ffff00" stroke="#ffff00" stroke-width="0.5" />
<polygon points="246.9,564.1 247.0,563.1 121.5,494.5 121.4,495.5" fill="#ffff00" stroke="#ffff00" stroke-width="0.5" />
<polygon points="246.8,565.0 246.9,564.1 121.4,495.5 121.3,496.4" fill="#efff10" stroke="#efff10" stroke-width="0.5" />
<polygon points="246.7,565.9 246.8,565.0 121.3,496.4 121.2,497.3" fill="#efff10" stroke="#efff10" stroke-width="0.5" />
<polygon points="246.6,566.8 246.7,565.9 121.2,497.3 121.1,498.2" fill="#efff10" stroke="#efff10" stroke-width="0.5" />
<polygon points="246.5,567.7 246.6,566.8 121.1,498.2 121.0,499.1" fill="#dfff20" stroke="#dfff20" stroke-width="0.5" />
<polygon points="246.4,568.6 246.5,567.7 121.0,499.1 120.9,500.0" fill="#dfff20" stroke="#dfff20" stroke-width="0.5" />
<polygon points="246.3,569.5 246.4,568.6 120.9,500.0 120.8,500.9" fill="#dfff20" stroke="#dfff20" stroke-width="0.5" />
<polygon points="246.2,570.3 246.3,569.5 120.8,500.9 120.7,501.7" fill="#cfff30" stroke="#cfff30" stroke-width="0.5" />
<polygon points="246.1,571.2 246.2,570.3 120.7,501.7 120.6,502.6" fill="#cfff30" stroke="#cfff30" stroke-width="0.5" />
<polygon points="246.0,572.1 246.1,571.2 120.6,502.6 120.5,503.5" fill="#cfff30" stroke="#cfff30" stroke-width="0.5" />
<polygon points="245.9,572.9 246.0,572.1 120.5,503.5 120.4,504.3" fill="#bfff40" stroke="#bfff40" stroke-width="0.5" />
<polygon points="245.8,573.8 245.9,572.9 120.4,504.3 120.3,505.2" fill="#bfff40" stroke="#bfff40" stroke-width="0.5" />
<polygon points="245.7,574.7 245.8,573.8 120.3,505.2 120.2,506.1" fill="#afff50" stroke="#afff50" stroke-width="0.5" />
<polygon points="245.6,575.6 245.7,574.7 120.2,506.1 120.1,507.0" fill="#afff50" stroke="#afff50" stroke-width="0.5" />
<polygon points="245.5,576.5 245.6,575.6 120.1,507.0 120.0,507.9" fill="#afff50" stroke="#afff50" stroke-width="0.5" />
<polygon points="245.4,577.4 245.5,576.5 120.0,507.9 119.9,508.8" fill="#9fff60" stroke="#9fff60" stroke-width="0.5" />
<polygon points="245.3,578.4 245.4,577.4 119.9,508.8 119.8,509.8" fill="#9fff60" stroke="#9fff60" stroke-width="0.5" />
<polygon points="245.2,579.3 245.3,578.4 119.8,509.8 119.7,510.7" fill="#9fff60" stroke="#9fff60" stroke-width="0.5" />
<polygon points="245.1,579.8 245.2,579.3 119.7,510.7 119.6,511.2" fill="#8fff70" stroke="#8fff70" stroke-width="0.5" />
<polygon points="245.1,580.3 245.1,579.8 119.6,511.2 119.6,511.7" fill="#8fff70" stroke="#8fff70" stroke-width="0.5" />
<polygon points="245.0,580.8 245.1,580.3 119.6,511.7 119.5,512.2" fill="#8fff70" stroke="#8fff70" stroke-width="0.5" />
<polygon points="244.9,581.3 245.0,580.8 119.5,512.2 119.4,512.7" fill="#8fff70" stroke="#8fff70" stroke-width="0.5" />
<polygon points="244.9,581.9 244.9,581.3 119.4,512.7 119.4,513.3" fill="#8fff70" stroke="#8fff70" stroke-width="0.5" />
<polygon points="244.8,582.4 244.9,581.9 119.4,513.3 119.3,513.8" fill="#80ff80" stroke="#80ff80" stroke-width="0.5" />
<polygon points="244.8,582.9 244.8,582.4 119.3,513.8 119.3,514.3" fill="#80ff80" stroke="#80ff80" stroke-width="0.5" />
<polygon points="244.7,583.5 244.8,582.9 119.3,514.3 119.2,514.9" fill="#80ff80" stroke="#80ff80" stroke-width="0.5" />
<polygon points="244.7,584.0 244.7,583.5 119.2,514.9 119.2,515.4" fill="#80ff80" stroke="#80ff80" stroke-width="0.5" />
<polygon points="244.6,584.6 244.7,584.0 119.2,515.4 119.1,516.0" fill="#70ff8f" stroke="#70ff8f" stroke-width="0.5" />
<polygon points="244.6,585.2 244.6,584.6 119.1,516.0 119.1,516.6" fill="#70ff8f" stroke="#70ff8f" stroke-width="0.5" />
<polygon points="244.5,585.7 244.6,585.2 119.1,516.6 119.0,517.1" fill="#70ff8f" stroke="#70ff8f" stroke-width="0.5" />
<polygon points="244.5,586.3 244.5,585.7 119.0,517.1 119.0,517.7" fill="#70ff8f" stroke="#70ff8f" stroke-width="0.5" />
<polygon points="244.4,586.9 244.5,586.3 119.0,517.7 118.9,518.3" fill="#60ff9f" stroke="#60ff9f" stroke-width="0.5" />
<polygon points="244.4,587.6 244.4,586.9 118.9,518.3 118.9,519.0" fill="#60ff9f" stroke="#60ff9f" stroke-width="0.5" />
<polygon points="244.3,588.2 244.4,587.6 118.9,519.0 118.8,519.6" fill="#60ff9f" stroke="#60ff9f" stroke-width="0.5" />
<polygon points="244.3,588.8 244.3,588.2 118.8,519.6 118.8,520.2" fill="#60ff9f" stroke="#60ff9f" stroke-width="0.5" />
<polygon points="244.2,589.5 244.3,588.8 118.8,520.2 118.7,520.9" fill="#50ffaf" stroke="#50ffaf" stroke-width="0.5" />
<polygon points="244.2,590.1 244.2,589.5 118.7,520.9 118.7,521.5" fill="#50ffaf" stroke="#50ffaf" stroke-width="0.5" />
<polygon points="244.1,590.8 244.2,590.1 118.7,521.5 118.6,522.2" fill="#50ffaf" stroke="#50ffaf" stroke-width="0.5" />
<polygon points="244.1,591.5 244.1,590.8 118.6,522.2 118.6,522.9" fill="#50ffaf" stroke="#50ffaf" stroke-width="0.5" />
<polygon points="244.0,592.2 244.1,591.5 118.6,522.9 118.5,523.6" fill="#40ffbf" stroke="#40ffbf" stroke-width="0.5" />
<polygon points="244.0,592.9 244.0,592.2 118.5,523.6 118.5,524.3" fill="#40ffbf" stroke="#40ffbf" stroke-width="0.5" />
<polygon points="243.9,593.6 244.0,592.9 118.5,524.3 118.4,525.0" fill="#40ffbf" stroke="#40ffbf" stroke-width="0.5" />
<polygon points="243.9,594.4 243.9,593.6 118.4,525.0 118.4,525.8" fill="#30ffcf" stroke="#30ffcf" stroke-width="0.5" />
<polygon points="243.8,595.1 243.9,594.4 118.4,525.8 118.3,526.5" fill="#30ffcf" stroke="#30ffcf" stroke-width="0.5" />
<polygon points="243.8,595.9 243.8,595.1 118.3,526.5 118.3,527.3" fill="#30ffcf" stroke="#30ffcf" stroke-width="0.5" />
<polygon points="243.7,596.7 243.8,595.9 118.3,527.3 118.2,528.1" fill="#30ffcf" stroke="#30ffcf" stroke-width="0.5" />
<polygon points="243.7,597.6 243.7,596.7 118.2,528.1 118.2,529.0" fill="#20ffdf" stroke="#20ffdf" stroke-width="0.5" />
<polygon points="243.6,598.5 243.7,597.6 118.2,529.0 118.1,529.9" fill="#20ffdf" stroke="#20ffdf" stroke-width="0.5" />
<polygon points="243.6,599.0 243.6,598.5 118.1,529.9 118.1,530.4" fill="#20ffdf" stroke="#20ffdf" stroke-width="0.5" />
<polygon points="243.6,599.5 243.6,599.0 118.1,530.4 118.1,530.9" fill="#10ffef" stroke="#10ffef" stroke-width="0.5" />
<polygon points="243.6,600.1 243.6,599.5 118.1,530.9 118.1,531.5" fill="#10ffef" stroke="#10ffef" stroke-width="0.5" />
<polygon points="243.5,600.6 243.6,600.1 118.1,531.5 118.0,532.0" fill="#10ffef" stroke="#10ffef" stroke-width="0.5" />
<polygon points="243.5,601.1 243.5,600.6 118.0,532.0 118.0,532.5" fill="#10ffef" stroke="#10ffef" stroke-width="0.5" />
<polygon points="243.5,601.7 243.5,601.1 118.0,532.5 118.0,533.1" fill="#00ffff" stroke="#00ffff" stroke-width="0.5" />
<polygon points="243.5,602.3 243.5,601.7 118.0,533.1 118.0,533.7" fill="#00ffff" stroke="#00ffff" stroke-width="0.5" />
<polygon points="243.4,602.8 243.5,602.3 118.0,533.7 117.9,534.2" fill="#00ffff" stroke="#00ffff" stroke-width="0.5" />
<polygon points="243.4,603.4 243.4,602.8 117.9,534.2 117.9,534.8" fill="#00ffff" stroke="#00ffff" stroke-width="0.5" />
<polygon points="243.4,604.0 243.4,603.4 117.9,534.8 117.9,535.4" fill="#00efff" stroke="#00efff" stroke-width="0.5" />
<polygon points="243.4,604.7 243.4,604.0 117.9,535.4 117.9,536.1" fill="#00efff" stroke="#00efff" stroke-width="0.5" />
<polygon points="243.3,605.3 243.4,604.7 117.9,536.1 117.8,536.7" fill="#00efff" stroke="#00efff" stroke-width="0.5" />
<polygon points="243.3,605.9 243.3,605.3 117.8,536.7 117.8,537.3" fill="#00efff" stroke="#00efff" stroke-width="0.5" />
<polygon points="243.3,606.5 243.3,605.9 117.8,537.3 117.8,537.9" fill="#00dfff" stroke="#00dfff" stroke-width="0.5" />
<polygon points="243.3,607.2 243.3,606.5 117.8,537.9 117.8,538.6" fill="#00dfff" stroke="#00dfff" stroke-width="0.5" />
<polygon points="243.2,607.8 243.3,607.2 117.8,538.6 117.7,539.2" fill="#00dfff" stroke="#00dfff" stroke-width="0.5" />
<polygon points="243.2,608.5 243.2,607.8 117.7,539.2 117.7,539.9" fill="#00dfff" stroke="#00dfff" stroke-width="0.5" />
<polygon points="243.2,609.2 243.2,608.5 117.7,539.9 117.7,540.6" fill="#00cfff" stroke="#00cfff" stroke-width="0.5" />
<polygon points="243.2,609.8 243.2,609.2 117.7,540.6 117.7,541.2" fill="#00cfff" stroke="#00cfff" stroke-width="0.5" />
<polygon points="243.1,610.5 243.2,609.8 117.7,541.2 117.6,541.9" fill="#00cfff" stroke="#00cfff" stroke-width="0.5" />
<polygon points="243.1,611.2 243.1,610.5 117.6,541.9 117.6,542.6" fill="#00cfff" stroke="#00cfff" stroke-width="0.5" />
<polygon points="243.1,611.9 243.1,611.2 117.6,542.6 117.6,543.3" fill="#00bfff" stroke="#00bfff" stroke-width="0.5" />
<polygon points="243.1,612.6 243.1,611.9 117.6,543.3 117.6,544.0" fill="#00bfff" stroke="#00bfff" stroke-width="0.5" />
<polygon points="243.0,613.3 243.1,612.6 117.6,544.0 117.5,544.7" fill="#00bfff" stroke="#00bfff" stroke-width="0.5" />
<polygon points="243.0,614.0 243.0,613.3 117.5,544.7 117.5,545.4" fill="#00afff" stroke="#00afff" stroke-width="0.5" />
<polygon points="243.0,614.7 243.0,614.0 117.5,545.4 117.5,546.1" fill="#00afff" stroke="#00afff" stroke-width="0.5" />
<polygon points="243.0,615.4 243.0,614.7 117.5,546.1 117.5,546.8" fill="#00afff" stroke="#00afff" stroke-width="0.5" />
<polygon points="242.9,616.1 243.0,615.4 117.5,546.8 117.4,547.5" fill="#00afff" stroke="#00afff" stroke-width="0.5" />
<polygon points="242.9,616.8 242.9,616.1 117.4,547.5 117.4,548.2" fill="#009fff" stroke="#009fff" stroke-width="0.5" />
<polygon points="242.9,617.5 242.9,616.8 117.4,548.2 117.4,548.9" fill="#009fff" stroke="#009fff" stroke-width="0.5" />
<polygon points="242.9,618.2 242.9,617.5 117.4,548.9 117.4,549.6" fill="#009fff" stroke="#009fff" stroke-width="0.5" />
<polygon points="242.8,618.9 242.9,618.2 117.4,549.6 117.3,550.3" fill="#008fff" stroke="#008fff" stroke-width="0.5" />
<polygon points="242.8,619.6 242.8,618.9 117.3,550.3 117.3,551.0" fill="#008fff" stroke="#008fff" stroke-width="0.5" />
<polygon points="242.8,620.3 242.8,619.6 117.3,551.0 117.3,551.7" fill="#008fff" stroke="#008fff" stroke-width="0.5" />
<polygon points="242.8,620.9 242.8,620.3 117.3,551.7 117.3,552.3" fill="#008fff" stroke="#008fff" stroke-width="0.5" />
<polygon points="242.7,621.6 242.8,620.9 117.3,552.3 117.2,553.0" fill="#0080ff" stroke="#0080ff" stroke-width="0.5" />
<polygon points="242.7,622.3 242.7,621.6 117.2,553.0 117.2,553.7" fill="#0080ff" stroke="#0080ff" stroke-width="0.5" />
<polygon points="242.7,623.0 242.7,622.3 117.2,553.7 117.2,554.4" fill="#0080ff" stroke="#0080ff" stroke-width="0.5" />
<polygon points="242.7,623.7 242.7,623.0 117.2,554.4 117.2,555.1" fill="#0070ff" stroke="#0070ff" stroke-width="0.5" />
<polygon points="242.6,624.4 242.7,623.7 117.2,555.1 117.1,555.8" fill="#0070ff" stroke="#0070ff" stroke-width="0.5" />
<polygon points="242.6,625.0 242.6,624.4 117.1,555.8 117.1,556.4" fill="#0070ff" stroke="#0070ff" stroke-width="0.5" />
<polygon points="242.6,625.7 242.6,625.0 117.1,556.4 117.1,557.1" fill="#0070ff" stroke="#0070ff" stroke-width="0.5" />
<polygon points="242.6,626.4 242.6,625.7 117.1,557.1 117.1,557.8" fill="#0060ff" stroke="#0060ff" stroke-width="0.5" />
<polygon points="242.5,627.0 242.6,626.4 117.1,557.8 117.0,558.4" fill="#0060ff" stroke="#0060ff" stroke-width="0.5" />
<polygon points="242.5,627.7 242.5,627.0 117.0,558.4 117.0,559.1" fill="#0060ff" stroke="#0060ff" stroke-width="0.5" />
<polygon points="242.5,628.3 242.5,627.7 117.0,559.1 117.0,559.7" fill="#0050ff" stroke="#0050ff" stroke-width="0.5" />
<polygon points="242.5,629.0 242.5,628.3 117.0,559.7 117.0,560.4" fill="#0050ff" stroke="#0050ff" stroke-width="0.5" />
<polygon points="242.4,629.6 242.5,629.0 117.0,560.4 116.9,561.0" fill="#0050ff" stroke="#0050ff" stroke-width="0.5" />
<polygon points="242.4,630.2 242.4,629.6 116.9,561.0 116.9,561.6" fill="#0050ff" stroke="#0050ff" stroke-width="0.5" />
<polygon points="242.4,630.9 242.4,630.2 116.9,561.6 116.9,562.3" fill="#0040ff" stroke="#0040ff" stroke-width="0.5" />
<polygon points="242.4,631.6 242.4,630.9 116.9,562.3 116.9,563.0" fill="#0040ff" stroke="#0040ff" stroke-width="0.5" />
<polygon points="242.3,632.2 242.4,631.6 116.9,563.0 116.8,563.6" fill="#0040ff" stroke="#0040ff" stroke-width="0.5" />
<polygon points="242.3,632.9 242.3,632.2 116.8,563.6 116.8,564.3" fill="#0040ff" stroke="#0040ff" stroke-width="0.5" />
<polygon points="242.3,633.5 242.3,632.9 116.8,564.3 116.8,564.9" fill="#0030ff" stroke="#0030ff" stroke-width="0.5" />
<polygon points="242.3,634.2 242.3,633.5 116.8,564.9 116.8,565.6" fill="#0030ff" stroke="#0030ff" stroke-width="0.5" />
<polygon points="242.2,634.8 242.3,634.2 116.8,565.6 116.7,566.2" fill="#0030ff" stroke="#0030ff" stroke-width="0.5" />
<polygon points="242.2,635.5 242.2,634.8 116.7,566.2 116.7,566.9" fill="#0030ff" stroke="#0030ff" stroke-width="0.5" />
<polygon points="242.2,636.1 242.2,635.5 116.7,566.9 116.7,567.5" fill="#0020ff" stroke="#0020ff" stroke-width="0.5" />
<polygon points="242.2,636.8 242.2,636.1 116.7,567.5 116.7,568.2" fill="#0020ff" stroke="#0020ff" stroke-width="0.5" />
<polygon points="242.1,637.5 242.2,636.8 116.7,568.2 116.6,568.9" fill="#0020ff" stroke="#0020ff" stroke-width="0.5" />
<polygon points="242.1,638.1 242.1,637.5 116.6,568.9 116.6,569.5" fill="#0010ff" stroke="#0010ff" stroke-width="0.5" />
<polygon points="242.1,638.8 242.1,638.1 116.6,569.5 116.6,570.2" fill="#0010ff" stroke="#0010ff" stroke-width="0.5" />
<polygon points="242.1,639.5 242.1,638.8 116.6,570.2 116.6,570.9" fill="#0010ff" stroke="#0010ff" stroke-width="0.5" />
<polygon points="242.0,640.1 242.1,639.5 116.6,570.9 116.5,571.5" fill="#0010ff" stroke="#0010ff" stroke-width="0.5" />
<polygon points="242.0,640.8 242.0,640.1 116.5,571.5 116.5,572.2" fill="#0000ff" stroke="#0000ff" stroke-width="0.5" />
<polygon points="242.0,641.5 242.0,640.8 116.5,572.2 116.5,572.9" fill="#0000ff" stroke="#0000ff" stroke-width="0.5" />
<polygon points="242.0,642.1 242.0,641.5 116.5,572.9 116.5,573.5" fill="#0000ff" stroke="#0000ff" stroke-width="0.5" />
<polygon points="241.9,642.8 242.0,642.1 116.5,573.5 116.4,574.2" fill="#0000ff" stroke="#0000ff" stroke-width="0.5" />
<polygon points="241.9,643.5 241.9,642.8 116.4,574.2 116.4,574.9" fill="#0000ef" stroke="#0000ef" stroke-width="0.5" />
<polygon points="241.9,644.1 241.9,643.5 116.4,574.9 116.4,575.5" fill="#0000ef" stroke="#0000ef" stroke-width="0.5" />
<polygon points="241.9,644.8 241.9,644.1 116.4,575.5 116.4,576.2" fill="#0000ef" stroke="#0000ef" stroke-width="0.5" />
<polygon points="241.8,645.5 241.9,644.8 116.4,576.2 116.3,576.9" fill="#0000df" stroke="#0000df" stroke-width="0.5" />
<polygon points="241.8,646.1 241.8,645.5 116.3,576.9 116.3,577.5" fill="#0000df" stroke="#0000df" stroke-width="0.5" />
<polygon points="241.8,646.8 241.8,646.1 116.3,577.5 116.3,578.2" fill="#0000df" stroke="#0000df" stroke-width="0.5" />
<polygon points="241.8,647.5 241.8,646.8 116.3,578.2 116.3,578.9" fill="#0000df" stroke="#0000df" stroke-width="0.5" />
<polygon points="241.7,648.1 241.8,647.5 116.3,578.9 116.2,579.5" fill="#0000cf" stroke="#0000cf" stroke-width="0.5" />
<polygon points="241.7,648.8 241.7,648.1 116.2,579.5 116.2,580.2" fill="#0000cf" stroke="#0000cf" stroke-width="0.5" />
<polygon points="241.7,649.5 241.7,648.8 116.2,580.2 116.2,580.9" fill="#0000cf" stroke="#0000cf" stroke-width="0.5" />
<polygon points="241.7,650.2 241.7,649.5 116.2,580.9 116.2,581.6" fill="#0000bf" stroke="#0000bf" stroke-width="0.5" />
<polygon points="241.6,650.8 241.7,650.2 116.2,581.6 116.1,582.2" fill="#0000bf" stroke="#0000bf" stroke-width="0.5" />
<polygon points="241.6,651.5 241.6,650.8 116.1,582.2 116.1,582.9" fill="#0000bf" stroke="#0000bf" stroke-width="0.5" />
<polygon points="241.6,652.2 241.6,651.5 116.1,582.9 116.1,583.6" fill="#0000bf" stroke="#0000bf" stroke-width="0.5" />
<polygon points="241.6,652.8 241.6,652.2 116.1,583.6 116.1,584.2" fill="#0000af" stroke="#0000af" stroke-width="0.5" />
<polygon points="241.5,653.5 241.6,652.8 116.1,584.2 116.0,584.9" fill="#0000af" stroke="#0000af" stroke-width="0.5" />
<polygon points="241.5,654.2 241.5,653.5 116.0,584.9 116.0,585.6" fill="#0000af" stroke="#0000af" stroke-width="0.5" />
<polygon points="241.5,654.8 241.5,654.2 116.0,585.6 116.0,586.2" fill="#0000af" stroke="#0000af" stroke-width="0.5" />
<polygon points="241.5,655.5 241.5,654.8 116.0,586.2 116.0,586.9" fill="#00009f" stroke="#00009f" stroke-width="0.5" />
<polygon points="241.4,656.2 241.5,655.5 116.0,586.9 115.9,587.6" fill="#00009f" stroke="#00009f" stroke-width="0.5" />
<polygon points="241.4,656.8 241.4,656.2 115.9,587.6 115.9,588.2" fill="#00009f" stroke="#00009f" stroke-width="0.5" />
<polygon points="241.4,657.5 241.4,656.8 115.9,588.2 115.9,588.9" fill="#00008f" stroke="#00008f" stroke-width="0.5" />
<polygon points="241.4,658.2 241.4,657.5 115.9,588.9 115.9,589.6" fill="#00008f" stroke="#00008f" stroke-width="0.5" />
<polygon points="241.3,658.8 241.4,658.2 115.9,589.6 115.8,590.2" fill="#00008f" stroke="#00008f" stroke-width="0.5" />
<polygon points="241.3,659.5 241.3,658.8 115.8,590.2 115.8,590.9" fill="#00008f" stroke="#00008f" stroke-width="0.5" />
<polyline points="717.2,424.7 722.9,427.4 728.5,430.2 734.2,432.9 739.9,435.7 745.6,438.5 751.2,441.2 756.9,444.0 762.6,446.8 768.2,449.6 773.9,452.3 779.6,455.1 785.2,457.9 790.9,460.6 796.6,463.3 802.2,466.0 807.9,468.6 813.6,471.3 819.3,473.9 824.9,476.4 830.6,479.0 836.3,481.5 841.9,483.9 847.6,486.4 853.3,488.8 859.0,491.2 864.6,493.6 870.3,496.0 876.0,498.4 881.6,500.7 887.3,503.0 893.0,505.3 898.6,507.6 904.3,509.9 910.0,512.2 915.6,514.5 921.3,516.7 927.0,518.9 932.7,521.2 938.3,523.4 944.0,525.6 949.7,527.8 955.3,529.9 961.0,532.1 966.7,534.3 972.4,536.4 978.0,538.5 983.7,540.6 989.4,542.7 995.0,544.8 1000.7,546.9 1006.4,549.0 1012.0,551.0 1017.7,553.1 1023.4,555.1 1029.0,557.2 1034.7,559.2 1040.4,561.2 1046.1,563.2 1051.7,565.1 1057.4,567.1 1063.1,569.1 1068.7,571.0 1074.4,572.9 1080.1,574.8 1085.8,576.7 1091.4,578.6 1097.1,580.5 1102.8,582.3 1108.4,584.2 1114.1,586.0 1119.8,587.8 1125.4,589.7 1131.1,591.5 1136.8,593.3 1142.4,595.2 1148.1,597.0 1153.8,598.8 1159.5,600.7 1165.1,602.5 1170.8,604.4" fill="none" stroke="#0000ff" stroke-width="6"/>
</g>
<g id="speckle" opacity="0.85">
<line x1="845.7" y1="202.1" x2="722.1" y2="138.9" stroke="#fff" stroke-width="1.3" stroke-dasharray="1.5 2.6 1.5 14.4" stroke-dashoffset="0.0" fill="none"/>
<line x1="845.9" y1="197.5" x2="722.3" y2="134.3" stroke="#fff" stroke-width="1.3" stroke-dasharray="1.5 2.6 1.5 14.4" stroke-dashoffset="10.0" fill="none"/>
<line x1="846.1" y1="193.0" x2="722.5" y2="129.7" stroke="#fff" stroke-width="1.3" stroke-dasharray="1.5 2.6 1.5 14.4" stroke-dashoffset="3.0" fill="none"/>
<line x1="846.6" y1="188.3" x2="723.0" y2="125.0" stroke="#fff" stroke-width="1.3" stroke-dasharray="1.5 2.6 1.5 14.4" stroke-dashoffset="13.0" fill="none"/>
<line x1="847.5" y1="183.5" x2="723.9" y2="120.3" stroke="#fff" stroke-width="1.3" stroke-dasharray="1.5 2.6 1.5 14.4" stroke-dashoffset="6.0" fill="none"/>
<line x1="849.0" y1="178.9" x2="725.4" y2="115.7" stroke="#fff" stroke-width="1.3" stroke-dasharray="1.5 2.6 1.5 14.4" stroke-dashoffset="16.0" fill="none"/>
<line x1="251.9" y1="511.8" x2="131.4" y2="445.9" stroke="#fff" stroke-width="1.3" stroke-dasharray="1.3 1.9 1.3 1.9 1.3 1.9 1.3 1.9 1.3 1.9 1.3 1.9 1.3 20" stroke-dashoffset="0.0" fill="none"/>
<line x1="249.5" y1="521.4" x2="129.0" y2="455.5" stroke="#fff" stroke-width="1.3" stroke-dasharray="1.3 1.9 1.3 1.9 1.3 1.9 1.3 1.9 1.3 1.9 1.3 1.9 1.3 20" stroke-dashoffset="28.0" fill="none"/>
<line x1="247.9" y1="530.7" x2="127.5" y2="464.8" stroke="#fff" stroke-width="1.3" stroke-dasharray="1.3 1.9 1.3 1.9 1.3 1.9 1.3 1.9 1.3 1.9 1.3 1.9 1.3 20" stroke-dashoffset="1.0" fill="none"/>
<line x1="246.8" y1="539.8" x2="126.3" y2="474.0" stroke="#fff" stroke-width="1.3" stroke-dasharray="1.3 1.9 1.3 1.9 1.3 1.9 1.3 1.9 1.3 1.9 1.3 1.9 1.3 20" stroke-dashoffset="29.0" fill="none"/>
<line x1="245.8" y1="549.0" x2="125.3" y2="483.1" stroke="#fff" stroke-width="1.3" stroke-dasharray="1.3 1.9 1.3 1.9 1.3 1.9 1.3 1.9 1.3 1.9 1.3 1.9 1.3 20" stroke-dashoffset="2.0" fill="none"/>
<line x1="244.8" y1="558.1" x2="124.4" y2="492.2" stroke="#fff" stroke-width="1.3" stroke-dasharray="1.3 1.9 1.3 1.9 1.3 1.9 1.3 1.9 1.3 1.9 1.3 1.9 1.3 20" stroke-dashoffset="30.0" fill="none"/>
<line x1="243.9" y1="567.2" x2="123.4" y2="501.3" stroke="#fff" stroke-width="1.3" stroke-dasharray="1.3 1.9 1.3 1.9 1.3 1.9 1.3 1.9 1.3 1.9 1.3 1.9 1.3 20" stroke-dashoffset="3.0" fill="none"/>
<line x1="242.8" y1="576.3" x2="122.3" y2="510.5" stroke="#fff" stroke-width="1.3" stroke-dasharray="1.3 1.9 1.3 1.9 1.3 1.9 1.3 1.9 1.3 1.9 1.3 1.9 1.3 20" stroke-dashoffset="31.0" fill="none"/>
<line x1="241.9" y1="585.4" x2="121.5" y2="519.6" stroke="#fff" stroke-width="1.3" stroke-dasharray="1.3 1.9 1.3 1.9 1.3 1.9 1.3 1.9 1.3 1.9 1.3 1.9 1.3 20" stroke-dashoffset="4.0" fill="none"/>
<line x1="241.3" y1="594.4" x2="120.8" y2="528.6" stroke="#fff" stroke-width="1.3" stroke-dasharray="1.3 1.9 1.3 1.9 1.3 1.9 1.3 1.9 1.3 1.9 1.3 1.9 1.3 20" stroke-dashoffset="32.0" fill="none"/>
<line x1="240.9" y1="603.4" x2="120.4" y2="537.5" stroke="#fff" stroke-width="1.3" stroke-dasharray="1.3 1.9 1.3 1.9 1.3 1.9 1.3 1.9 1.3 1.9 1.3 1.9 1.3 20" stroke-dashoffset="5.0" fill="none"/>
<line x1="240.5" y1="612.3" x2="120.0" y2="546.4" stroke="#fff" stroke-width="1.3" stroke-dasharray="1.3 1.9 1.3 1.9 1.3 1.9 1.3 1.9 1.3 1.9 1.3 1.9 1.3 20" stroke-dashoffset="33.0" fill="none"/>
<line x1="240.2" y1="621.2" x2="119.7" y2="555.3" stroke="#fff" stroke-width="1.3" stroke-dasharray="1.3 1.9 1.3 1.9 1.3 1.9 1.3 1.9 1.3 1.9 1.3 1.9 1.3 20" stroke-dashoffset="6.0" fill="none"/>
<line x1="239.8" y1="630.1" x2="119.4" y2="564.3" stroke="#fff" stroke-width="1.3" stroke-dasharray="1.3 1.9 1.3 1.9 1.3 1.9 1.3 1.9 1.3 1.9 1.3 1.9 1.3 20" stroke-dashoffset="21.0" fill="none"/>
<line x1="239.5" y1="639.0" x2="119.0" y2="573.2" stroke="#fff" stroke-width="1.3" stroke-dasharray="1.3 1.9 1.3 1.9 1.3 1.9 1.3 1.9 1.3 1.9 1.3 1.9 1.3 20" stroke-dashoffset="7.0" fill="none"/>
<line x1="239.2" y1="647.9" x2="118.7" y2="582.1" stroke="#fff" stroke-width="1.3" stroke-dasharray="1.3 1.9 1.3 1.9 1.3 1.9 1.3 1.9 1.3 1.9 1.3 1.9 1.3 20" stroke-dashoffset="22.0" fill="none"/>
<line x1="238.8" y1="656.9" x2="118.4" y2="591.0" stroke="#fff" stroke-width="1.3" stroke-dasharray="1.3 1.9 1.3 1.9 1.3 1.9 1.3 1.9 1.3 1.9 1.3 1.9 1.3 20" stroke-dashoffset="8.0" fill="none"/>
</g>
<g id="colorbars" shape-rendering="crispEdges">
<rect x="458.50" y="281.76" width="43.90" height="4.64" fill="#00008f"/>
<rect x="458.50" y="277.52" width="43.90" height="4.64" fill="#00009f"/>
<rect x="458.50" y="273.28" width="43.90" height="4.64" fill="#0000af"/>
<rect x="458.50" y="269.04" width="43.90" height="4.64" fill="#0000bf"/>
<rect x="458.50" y="264.80" width="43.90" height="4.64" fill="#0000cf"/>
<rect x="458.50" y="260.57" width="43.90" height="4.64" fill="#0000df"/>
<rect x="458.50" y="256.33" width="43.90" height="4.64" fill="#0000ef"/>
<rect x="458.50" y="252.09" width="43.90" height="4.64" fill="#0000ff"/>
<rect x="458.50" y="247.85" width="43.90" height="4.64" fill="#0010ff"/>
<rect x="458.50" y="243.61" width="43.90" height="4.64" fill="#0020ff"/>
<rect x="458.50" y="239.37" width="43.90" height="4.64" fill="#0030ff"/>
<rect x="458.50" y="235.13" width="43.90" height="4.64" fill="#0040ff"/>
<rect x="458.50" y="230.89" width="43.90" height="4.64" fill="#0050ff"/>
<rect x="458.50" y="226.65" width="43.90" height="4.64" fill="#0060ff"/>
<rect x="458.50" y="222.41" width="43.90" height="4.64" fill="#0070ff"/>
<rect x="458.50" y="218.18" width="43.90" height="4.64" fill="#0080ff"/>
<rect x="458.50" y="213.94" width="43.90" height="4.64" fill="#008fff"/>
<rect x="458.50" y="209.70" width="43.90" height="4.64" fill="#009fff"/>
<rect x="458.50" y="205.46" width="43.90" height="4.64" fill="#00afff"/>
<rect x="458.50" y="201.22" width="43.90" height="4.64" fill="#00bfff"/>
<rect x="458.50" y="196.98" width="43.90" height="4.64" fill="#00cfff"/>
<rect x="458.50" y="192.74" width="43.90" height="4.64" fill="#00dfff"/>
<rect x="458.50" y="188.50" width="43.90" height="4.64" fill="#00efff"/>
<rect x="458.50" y="184.26" width="43.90" height="4.64" fill="#00ffff"/>
<rect x="458.50" y="180.02" width="43.90" height="4.64" fill="#10ffef"/>
<rect x="458.50" y="175.78" width="43.90" height="4.64" fill="#20ffdf"/>
<rect x="458.50" y="171.55" width="43.90" height="4.64" fill="#30ffcf"/>
<rect x="458.50" y="167.31" width="43.90" height="4.64" fill="#40ffbf"/>
<rect x="458.50" y="163.07" width="43.90" height="4.64" fill="#50ffaf"/>
<rect x="458.50" y="158.83" width="43.90" height="4.64" fill="#60ff9f"/>
<rect x="458.50" y="154.59" width="43.90" height="4.64" fill="#70ff8f"/>
<rect x="458.50" y="150.35" width="43.90" height="4.64" fill="#80ff80"/>
<rect x="458.50" y="146.11" width="43.90" height="4.64" fill="#8fff70"/>
<rect x="458.50" y="141.87" width="43.90" height="4.64" fill="#9fff60"/>
<rect x="458.50" y="137.63" width="43.90" height="4.64" fill="#afff50"/>
<rect x="458.50" y="133.39" width="43.90" height="4.64" fill="#bfff40"/>
<rect x="458.50" y="129.15" width="43.90" height="4.64" fill="#cfff30"/>
<rect x="458.50" y="124.92" width="43.90" height="4.64" fill="#dfff20"/>
<rect x="458.50" y="120.68" width="43.90" height="4.64" fill="#efff10"/>
<rect x="458.50" y="116.44" width="43.90" height="4.64" fill="#ffff00"/>
<rect x="458.50" y="112.20" width="43.90" height="4.64" fill="#ffef00"/>
<rect x="458.50" y="107.96" width="43.90" height="4.64" fill="#ffdf00"/>
<rect x="458.50" y="103.72" width="43.90" height="4.64" fill="#ffcf00"/>
<rect x="458.50" y="99.48" width="43.90" height="4.64" fill="#ffbf00"/>
<rect x="458.50" y="95.24" width="43.90" height="4.64" fill="#ffaf00"/>
<rect x="458.50" y="91.00" width="43.90" height="4.64" fill="#ff9f00"/>
<rect x="458.50" y="86.76" width="43.90" height="4.64" fill="#ff8f00"/>
<rect x="458.50" y="82.52" width="43.90" height="4.64" fill="#ff8000"/>
<rect x="458.50" y="78.29" width="43.90" height="4.64" fill="#ff7000"/>
<rect x="458.50" y="74.05" width="43.90" height="4.64" fill="#ff6000"/>
<rect x="458.50" y="69.81" width="43.90" height="4.64" fill="#ff5000"/>
<rect x="458.50" y="65.57" width="43.90" height="4.64" fill="#ff4000"/>
<rect x="458.50" y="61.33" width="43.90" height="4.64" fill="#ff3000"/>
<rect x="458.50" y="57.09" width="43.90" height="4.64" fill="#ff2000"/>
<rect x="458.50" y="52.85" width="43.90" height="4.64" fill="#ff1000"/>
<rect x="458.50" y="48.61" width="43.90" height="4.64" fill="#ff0000"/>
<rect x="458.50" y="44.37" width="43.90" height="4.64" fill="#ef0000"/>
<rect x="458.50" y="40.13" width="43.90" height="4.64" fill="#df0000"/>
<rect x="458.50" y="35.90" width="43.90" height="4.64" fill="#cf0000"/>
<rect x="458.50" y="31.66" width="43.90" height="4.64" fill="#bf0000"/>
<rect x="458.50" y="27.42" width="43.90" height="4.64" fill="#af0000"/>
<rect x="458.50" y="23.18" width="43.90" height="4.64" fill="#9f0000"/>
<rect x="458.50" y="18.94" width="43.90" height="4.64" fill="#8f0000"/>
<rect x="458.50" y="14.70" width="43.90" height="4.64" fill="#800000"/>
<rect x="458.5" y="14.7" width="43.9" height="271.3" fill="none" class="b" shape-rendering="auto"/>
<rect x="1079.00" y="277.77" width="43.60" height="4.63" fill="#00008f"/>
<rect x="1079.00" y="273.55" width="43.60" height="4.63" fill="#00009f"/>
<rect x="1079.00" y="269.32" width="43.60" height="4.63" fill="#0000af"/>
<rect x="1079.00" y="265.09" width="43.60" height="4.63" fill="#0000bf"/>
<rect x="1079.00" y="260.87" width="43.60" height="4.63" fill="#0000cf"/>
<rect x="1079.00" y="256.64" width="43.60" height="4.63" fill="#0000df"/>
<rect x="1079.00" y="252.41" width="43.60" height="4.63" fill="#0000ef"/>
<rect x="1079.00" y="248.19" width="43.60" height="4.63" fill="#0000ff"/>
<rect x="1079.00" y="243.96" width="43.60" height="4.63" fill="#0010ff"/>
<rect x="1079.00" y="239.73" width="43.60" height="4.63" fill="#0020ff"/>
<rect x="1079.00" y="235.51" width="43.60" height="4.63" fill="#0030ff"/>
<rect x="1079.00" y="231.28" width="43.60" height="4.63" fill="#0040ff"/>
<rect x="1079.00" y="227.05" width="43.60" height="4.63" fill="#0050ff"/>
<rect x="1079.00" y="222.83" width="43.60" height="4.63" fill="#0060ff"/>
<rect x="1079.00" y="218.60" width="43.60" height="4.63" fill="#0070ff"/>
<rect x="1079.00" y="214.38" width="43.60" height="4.63" fill="#0080ff"/>
<rect x="1079.00" y="210.15" width="43.60" height="4.63" fill="#008fff"/>
<rect x="1079.00" y="205.92" width="43.60" height="4.63" fill="#009fff"/>
<rect x="1079.00" y="201.70" width="43.60" height="4.63" fill="#00afff"/>
<rect x="1079.00" y="197.47" width="43.60" height="4.63" fill="#00bfff"/>
<rect x="1079.00" y="193.24" width="43.60" height="4.63" fill="#00cfff"/>
<rect x="1079.00" y="189.02" width="43.60" height="4.63" fill="#00dfff"/>
<rect x="1079.00" y="184.79" width="43.60" height="4.63" fill="#00efff"/>
<rect x="1079.00" y="180.56" width="43.60" height="4.63" fill="#00ffff"/>
<rect x="1079.00" y="176.34" width="43.60" height="4.63" fill="#10ffef"/>
<rect x="1079.00" y="172.11" width="43.60" height="4.63" fill="#20ffdf"/>
<rect x="1079.00" y="167.88" width="43.60" height="4.63" fill="#30ffcf"/>
<rect x="1079.00" y="163.66" width="43.60" height="4.63" fill="#40ffbf"/>
<rect x="1079.00" y="159.43" width="43.60" height="4.63" fill="#50ffaf"/>
<rect x="1079.00" y="155.20" width="43.60" height="4.63" fill="#60ff9f"/>
<rect x="1079.00" y="150.98" width="43.60" height="4.63" fill="#70ff8f"/>
<rect x="1079.00" y="146.75" width="43.60" height="4.63" fill="#80ff80"/>
<rect x="1079.00" y="142.52" width="43.60" height="4.63" fill="#8fff70"/>
<rect x="1079.00" y="138.30" width="43.60" height="4.63" fill="#9fff60"/>
<rect x="1079.00" y="134.07" width="43.60" height="4.63" fill="#afff50"/>
<rect x="1079.00" y="129.84" width="43.60" height="4.63" fill="#bfff40"/>
<rect x="1079.00" y="125.62" width="43.60" height="4.63" fill="#cfff30"/>
<rect x="1079.00" y="121.39" width="43.60" height="4.63" fill="#dfff20"/>
<rect x="1079.00" y="117.16" width="43.60" height="4.63" fill="#efff10"/>
<rect x="1079.00" y="112.94" width="43.60" height="4.63" fill="#ffff00"/>
<rect x="1079.00" y="108.71" width="43.60" height="4.63" fill="#ffef00"/>
<rect x="1079.00" y="104.48" width="43.60" height="4.63" fill="#ffdf00"/>
<rect x="1079.00" y="100.26" width="43.60" height="4.63" fill="#ffcf00"/>
<rect x="1079.00" y="96.03" width="43.60" height="4.63" fill="#ffbf00"/>
<rect x="1079.00" y="91.80" width="43.60" height="4.63" fill="#ffaf00"/>
<rect x="1079.00" y="87.58" width="43.60" height="4.63" fill="#ff9f00"/>
<rect x="1079.00" y="83.35" width="43.60" height="4.63" fill="#ff8f00"/>
<rect x="1079.00" y="79.12" width="43.60" height="4.63" fill="#ff8000"/>
<rect x="1079.00" y="74.90" width="43.60" height="4.63" fill="#ff7000"/>
<rect x="1079.00" y="70.67" width="43.60" height="4.63" fill="#ff6000"/>
<rect x="1079.00" y="66.45" width="43.60" height="4.63" fill="#ff5000"/>
<rect x="1079.00" y="62.22" width="43.60" height="4.63" fill="#ff4000"/>
<rect x="1079.00" y="57.99" width="43.60" height="4.63" fill="#ff3000"/>
<rect x="1079.00" y="53.77" width="43.60" height="4.63" fill="#ff2000"/>
<rect x="1079.00" y="49.54" width="43.60" height="4.63" fill="#ff1000"/>
<rect x="1079.00" y="45.31" width="43.60" height="4.63" fill="#ff0000"/>
<rect x="1079.00" y="41.09" width="43.60" height="4.63" fill="#ef0000"/>
<rect x="1079.00" y="36.86" width="43.60" height="4.63" fill="#df0000"/>
<rect x="1079.00" y="32.63" width="43.60" height="4.63" fill="#cf0000"/>
<rect x="1079.00" y="28.41" width="43.60" height="4.63" fill="#bf0000"/>
<rect x="1079.00" y="24.18" width="43.60" height="4.63" fill="#af0000"/>
<rect x="1079.00" y="19.95" width="43.60" height="4.63" fill="#9f0000"/>
<rect x="1079.00" y="15.73" width="43.60" height="4.63" fill="#8f0000"/>
<rect x="1079.00" y="11.50" width="43.60" height="4.63" fill="#800000"/>
<rect x="1079.0" y="11.5" width="43.6" height="270.5" fill="none" class="b" shape-rendering="auto"/>
<rect x="458.50" y="655.18" width="44.00" height="4.62" fill="#00008f"/>
<rect x="458.50" y="650.96" width="44.00" height="4.62" fill="#00009f"/>
<rect x="458.50" y="646.73" width="44.00" height="4.62" fill="#0000af"/>
<rect x="458.50" y="642.51" width="44.00" height="4.62" fill="#0000bf"/>
<rect x="458.50" y="638.29" width="44.00" height="4.62" fill="#0000cf"/>
<rect x="458.50" y="634.07" width="44.00" height="4.62" fill="#0000df"/>
<rect x="458.50" y="629.85" width="44.00" height="4.62" fill="#0000ef"/>
<rect x="458.50" y="625.62" width="44.00" height="4.62" fill="#0000ff"/>
<rect x="458.50" y="621.40" width="44.00" height="4.62" fill="#0010ff"/>
<rect x="458.50" y="617.18" width="44.00" height="4.62" fill="#0020ff"/>
<rect x="458.50" y="612.96" width="44.00" height="4.62" fill="#0030ff"/>
<rect x="458.50" y="608.74" width="44.00" height="4.62" fill="#0040ff"/>
<rect x="458.50" y="604.52" width="44.00" height="4.62" fill="#0050ff"/>
<rect x="458.50" y="600.29" width="44.00" height="4.62" fill="#0060ff"/>
<rect x="458.50" y="596.07" width="44.00" height="4.62" fill="#0070ff"/>
<rect x="458.50" y="591.85" width="44.00" height="4.62" fill="#0080ff"/>
<rect x="458.50" y="587.63" width="44.00" height="4.62" fill="#008fff"/>
<rect x="458.50" y="583.41" width="44.00" height="4.62" fill="#009fff"/>
<rect x="458.50" y="579.18" width="44.00" height="4.62" fill="#00afff"/>
<rect x="458.50" y="574.96" width="44.00" height="4.62" fill="#00bfff"/>
<rect x="458.50" y="570.74" width="44.00" height="4.62" fill="#00cfff"/>
<rect x="458.50" y="566.52" width="44.00" height="4.62" fill="#00dfff"/>
<rect x="458.50" y="562.30" width="44.00" height="4.62" fill="#00efff"/>
<rect x="458.50" y="558.08" width="44.00" height="4.62" fill="#00ffff"/>
<rect x="458.50" y="553.85" width="44.00" height="4.62" fill="#10ffef"/>
<rect x="458.50" y="549.63" width="44.00" height="4.62" fill="#20ffdf"/>
<rect x="458.50" y="545.41" width="44.00" height="4.62" fill="#30ffcf"/>
<rect x="458.50" y="541.19" width="44.00" height="4.62" fill="#40ffbf"/>
<rect x="458.50" y="536.97" width="44.00" height="4.62" fill="#50ffaf"/>
<rect x="458.50" y="532.74" width="44.00" height="4.62" fill="#60ff9f"/>
<rect x="458.50" y="528.52" width="44.00" height="4.62" fill="#70ff8f"/>
<rect x="458.50" y="524.30" width="44.00" height="4.62" fill="#80ff80"/>
<rect x="458.50" y="520.08" width="44.00" height="4.62" fill="#8fff70"/>
<rect x="458.50" y="515.86" width="44.00" height="4.62" fill="#9fff60"/>
<rect x="458.50" y="511.63" width="44.00" height="4.62" fill="#afff50"/>
<rect x="458.50" y="507.41" width="44.00" height="4.62" fill="#bfff40"/>
<rect x="458.50" y="503.19" width="44.00" height="4.62" fill="#cfff30"/>
<rect x="458.50" y="498.97" width="44.00" height="4.62" fill="#dfff20"/>
<rect x="458.50" y="494.75" width="44.00" height="4.62" fill="#efff10"/>
<rect x="458.50" y="490.52" width="44.00" height="4.62" fill="#ffff00"/>
<rect x="458.50" y="486.30" width="44.00" height="4.62" fill="#ffef00"/>
<rect x="458.50" y="482.08" width="44.00" height="4.62" fill="#ffdf00"/>
<rect x="458.50" y="477.86" width="44.00" height="4.62" fill="#ffcf00"/>
<rect x="458.50" y="473.64" width="44.00" height="4.62" fill="#ffbf00"/>
<rect x="458.50" y="469.42" width="44.00" height="4.62" fill="#ffaf00"/>
<rect x="458.50" y="465.19" width="44.00" height="4.62" fill="#ff9f00"/>
<rect x="458.50" y="460.97" width="44.00" height="4.62" fill="#ff8f00"/>
<rect x="458.50" y="456.75" width="44.00" height="4.62" fill="#ff8000"/>
<rect x="458.50" y="452.53" width="44.00" height="4.62" fill="#ff7000"/>
<rect x="458.50" y="448.31" width="44.00" height="4.62" fill="#ff6000"/>
<rect x="458.50" y="444.08" width="44.00" height="4.62" fill="#ff5000"/>
<rect x="458.50" y="439.86" width="44.00" height="4.62" fill="#ff4000"/>
<rect x="458.50" y="435.64" width="44.00" height="4.62" fill="#ff3000"/>
<rect x="458.50" y="431.42" width="44.00" height="4.62" fill="#ff2000"/>
<rect x="458.50" y="427.20" width="44.00" height="4.62" fill="#ff1000"/>
<rect x="458.50" y="422.98" width="44.00" height="4.62" fill="#ff0000"/>
<rect x="458.50" y="418.75" width="44.00" height="4.62" fill="#ef0000"/>
<rect x="458.50" y="414.53" width="44.00" height="4.62" fill="#df0000"/>
<rect x="458.50" y="410.31" width="44.00" height="4.62" fill="#cf0000"/>
<rect x="458.50" y="406.09" width="44.00" height="4.62" fill="#bf0000"/>
<rect x="458.50" y="401.87" width="44.00" height="4.62" fill="#af0000"/>
<rect x="458.50" y="397.64" width="44.00" height="4.62" fill="#9f0000"/>
<rect x="458.50" y="393.42" width="44.00" height="4.62" fill="#8f0000"/>
<rect x="458.50" y="389.20" width="44.00" height="4.62" fill="#800000"/>
<rect x="458.5" y="389.2" width="44.0" height="270.2" fill="none" class="b" shape-rendering="auto"/>
</g>
<path d="M114,148.5 H200 M458,148.5 H503 M720.5,148.5 H816 M1078.5,148.5 H1123" stroke="#fff" stroke-width="1.1" stroke-opacity="0.85" fill="none"/>
<g id="axes">
<line x1="458.5" y1="30.4" x2="462.5" y2="30.4" class="a"/>
<line x1="498.4" y1="30.4" x2="502.4" y2="30.4" class="a"/>
<line x1="458.5" y1="66.9" x2="462.5" y2="66.9" class="a"/>
<line x1="498.4" y1="66.9" x2="502.4" y2="66.9" class="a"/>
<line x1="458.5" y1="103.5" x2="462.5" y2="103.5" class="a"/>
<line x1="498.4" y1="103.5" x2="502.4" y2="103.5" class="a"/>
<line x1="458.5" y1="140.0" x2="462.5" y2="140.0" class="a"/>
<line x1="498.4" y1="140.0" x2="502.4" y2="140.0" class="a"/>
<line x1="458.5" y1="176.5" x2="462.5" y2="176.5" class="a"/>
<line x1="498.4" y1="176.5" x2="502.4" y2="176.5" class="a"/>
<line x1="458.5" y1="213.1" x2="462.5" y2="213.1" class="a"/>
<line x1="498.4" y1="213.1" x2="502.4" y2="213.1" class="a"/>
<line x1="458.5" y1="249.6" x2="462.5" y2="249.6" class="a"/>
<line x1="498.4" y1="249.6" x2="502.4" y2="249.6" class="a"/>
<line x1="1079.0" y1="15.0" x2="1083.0" y2="15.0" class="a"/>
<line x1="1118.6" y1="15.0" x2="1122.6" y2="15.0" class="a"/>
<line x1="1079.0" y1="53.8" x2="1083.0" y2="53.8" class="a"/>
<line x1="1118.6" y1="53.8" x2="1122.6" y2="53.8" class="a"/>
<line x1="1079.0" y1="92.7" x2="1083.0" y2="92.7" class="a"/>
<line x1="1118.6" y1="92.7" x2="1122.6" y2="92.7" class="a"/>
<line x1="1079.0" y1="131.5" x2="1083.0" y2="131.5" class="a"/>
<line x1="1118.6" y1="131.5" x2="1122.6" y2="131.5" class="a"/>
<line x1="1079.0" y1="170.3" x2="1083.0" y2="170.3" class="a"/>
<line x1="1118.6" y1="170.3" x2="1122.6" y2="170.3" class="a"/>
<line x1="1079.0" y1="209.1" x2="1083.0" y2="209.1" class="a"/>
<line x1="1118.6" y1="209.1" x2="1122.6" y2="209.1" class="a"/>
<line x1="1079.0" y1="248.0" x2="1083.0" y2="248.0" class="a"/>
<line x1="1118.6" y1="248.0" x2="1122.6" y2="248.0" class="a"/>
<line x1="458.5" y1="437.7" x2="462.5" y2="437.7" class="a"/>
<line x1="498.5" y1="437.7" x2="502.5" y2="437.7" class="a"/>
<line x1="458.5" y1="492.8" x2="462.5" y2="492.8" class="a"/>
<line x1="498.5" y1="492.8" x2="502.5" y2="492.8" class="a"/>
<line x1="458.5" y1="547.8" x2="462.5" y2="547.8" class="a"/>
<line x1="498.5" y1="547.8" x2="502.5" y2="547.8" class="a"/>
<line x1="458.5" y1="602.9" x2="462.5" y2="602.9" class="a"/>
<line x1="498.5" y1="602.9" x2="502.5" y2="602.9" class="a"/>
<line x1="829.3" y1="655.6" x2="829.3" y2="651.1" class="a"/>
<line x1="829.3" y1="385.4" x2="829.3" y2="389.9" class="a"/>
<line x1="943.0" y1="655.6" x2="943.0" y2="651.1" class="a"/>
<line x1="943.0" y1="385.4" x2="943.0" y2="389.9" class="a"/>
<line x1="1055.4" y1="655.6" x2="1055.4" y2="651.1" class="a"/>
<line x1="1055.4" y1="385.4" x2="1055.4" y2="389.9" class="a"/>
<line x1="717.2" y1="586.9" x2="721.7" y2="586.9" class="a"/>
<line x1="1170.8" y1="586.9" x2="1166.3" y2="586.9" class="a"/>
<line x1="717.2" y1="520.9" x2="721.7" y2="520.9" class="a"/>
<line x1="1170.8" y1="520.9" x2="1166.3" y2="520.9" class="a"/>
<line x1="717.2" y1="452.7" x2="721.7" y2="452.7" class="a"/>
<line x1="1170.8" y1="452.7" x2="1166.3" y2="452.7" class="a"/>
<path d="M717.2,385.4 V655.6 H1170.8" class="a"/>
<path d="M717.2,385.0 H1171.7" stroke="#222" stroke-width="1.2" fill="none"/>
<path d="M1171.2,385.0 V656.5" stroke="#222" stroke-width="1.4" fill="none"/>
</g>
<g id="labels" stroke="#000" stroke-width="0.3">
<text transform="translate(509.48,40.81) scale(1.0000,1.0400)">140</text>
<text transform="translate(509.48,77.34) scale(1.0000,1.0400)">120</text>
<text transform="translate(509.48,113.87) scale(1.0000,1.0400)">100</text>
<text transform="translate(509.05,150.40) scale(1.0000,1.0400)">80</text>
<text transform="translate(508.92,186.93) scale(1.0000,1.0400)">60</text>
<text transform="translate(509.67,223.46) scale(1.0000,1.0400)">40</text>
<text transform="translate(508.92,259.99) scale(1.0000,1.0400)">20</text>
<text transform="translate(55.35,68.81) scale(1.0000,1.0400)">200</text>
<text transform="translate(55.28,143.63) scale(1.0000,1.0400)">100</text>
<text transform="translate(86.54,219.01) scale(1.0000,1.0400)">0</text>
<text transform="translate(48.19,243.73) scale(1.0000,1.0400)">0.02</text>
<text transform="translate(109.47,278.21) scale(1.0000,1.0400)">0.01</text>
<text transform="translate(210.94,311.61) scale(1.0000,1.0400)">0</text>
<text transform="translate(153.67,313.69) scale(0.9143,0.8467)">σ</text>
<text transform="translate(248.09,313.51) scale(1.0000,1.0400)">0</text>
<text transform="translate(328.38,287.01) scale(1.0000,1.0400)">100</text>
<text transform="translate(409.90,261.71) scale(1.0000,1.0400)">200</text>
<text transform="translate(311.83,314.80) scale(0.9885,1)">time in days</text>
<text transform="translate(26.40,236.74) rotate(-90) scale(0.9956,1)">Exposed (E<tspan dy="9.2" dx="0.0" font-size="22.5">w</tspan><tspan dy="-9.2">(t))</tspan></text>
<text transform="translate(1128.88,25.81) scale(1.0000,1.0400)">140</text>
<text transform="translate(1128.88,64.64) scale(1.0000,1.0400)">120</text>
<text transform="translate(1128.88,103.47) scale(1.0000,1.0400)">100</text>
<text transform="translate(1128.55,142.30) scale(1.0000,1.0400)">80</text>
<text transform="translate(1128.42,181.13) scale(1.0000,1.0400)">60</text>
<text transform="translate(1129.17,219.96) scale(1.0000,1.0400)">40</text>
<text transform="translate(1128.42,258.79) scale(1.0000,1.0400)">20</text>
<text transform="translate(661.55,72.01) scale(1.0000,1.0400)">200</text>
<text transform="translate(661.27,145.91) scale(1.0000,1.0400)">100</text>
<text transform="translate(692.59,221.61) scale(1.0000,1.0400)">0</text>
<text transform="translate(653.29,246.01) scale(1.0000,1.0400)">0.02</text>
<text transform="translate(719.77,280.61) scale(1.0000,1.0400)">0.01</text>
<text transform="translate(823.34,313.71) scale(1.0000,1.0400)">0</text>
<text transform="translate(764.98,317.29) scale(0.9079,0.8600)">σ</text>
<text transform="translate(861.79,316.51) scale(1.0000,1.0400)">0</text>
<text transform="translate(947.08,289.61) scale(1.0000,1.0400)">100</text>
<text transform="translate(1031.45,264.21) scale(1.0000,1.0400)">200</text>
<text transform="translate(929.73,318.40) scale(0.9878,1)">time in days</text>
<text transform="translate(633.00,231.25) rotate(-90) scale(1.0085,1)">Infected (I<tspan dy="9.2" dx="0.0" font-size="22.5">w</tspan><tspan dy="-9.2">(t))</tspan></text>
<text transform="translate(508.83,448.11) scale(1.0000,1.0400)">200</text>
<text transform="translate(509.48,503.18) scale(1.0000,1.0400)">150</text>
<text transform="translate(509.48,558.25) scale(1.0000,1.0400)">100</text>
<text transform="translate(509.08,613.32) scale(1.0000,1.0400)">50</text>
<text transform="translate(509.14,669.91) scale(1.0000,1.0400)">0</text>
<text transform="translate(57.80,474.21) scale(1.0000,1.0400)">200</text>
<text transform="translate(57.67,535.71) scale(1.0000,1.0400)">100</text>
<text transform="translate(88.94,595.81) scale(1.0000,1.0400)">0</text>
<text transform="translate(50.99,620.31) scale(1.0000,1.0400)">0.02</text>
<text transform="translate(112.47,654.81) scale(1.0000,1.0400)">0.01</text>
<text transform="translate(213.34,687.71) scale(1.0000,1.0400)">0</text>
<text transform="translate(156.64,691.59) scale(0.8571,0.8467)">σ</text>
<text transform="translate(250.64,690.21) scale(1.0000,1.0400)">0</text>
<text transform="translate(330.68,663.71) scale(1.0000,1.0400)">100</text>
<text transform="translate(412.40,637.61) scale(1.0000,1.0400)">200</text>
<text transform="translate(314.63,692.60) scale(0.9811,1)">time in days</text>
<text transform="translate(29.40,658.23) rotate(-90) scale(0.9929,1)">Fungal Pathogen(P<tspan dy="9.2" dx="5.8" font-size="22.5">l</tspan><tspan dy="-9.2">(t))</tspan></text>
<text transform="translate(692.95,397.01) scale(1.0000,1.0400)">9</text>
<text transform="translate(692.89,463.91) scale(1.0000,1.0400)">8</text>
<text transform="translate(692.95,531.71) scale(1.0000,1.0400)">7</text>
<text transform="translate(692.83,598.21) scale(1.0000,1.0400)">6</text>
<text transform="translate(692.95,665.68) scale(1.0000,1.0400)">5</text>
<text transform="translate(708.34,689.21) scale(1.0000,1.0400)">0</text>
<text transform="translate(793.70,689.21) scale(1.0000,1.0400)">0.005</text>
<text transform="translate(915.27,689.21) scale(1.0000,1.0400)">0.01</text>
<text transform="translate(1020.20,689.21) scale(1.0000,1.0400)">0.015</text>
<text transform="translate(1142.04,689.21) scale(1.0000,1.0400)">0.02</text>
<text transform="translate(934.03,723.29) scale(0.8635,0.8333)">σ</text>
<text transform="translate(664.80,540.77) rotate(-90) scale(1.0069,1)">R<tspan dy="9.2" dx="0.0" font-size="22.5">0</tspan></text>
</g>
</g>
</svg>
</body>
</html>
